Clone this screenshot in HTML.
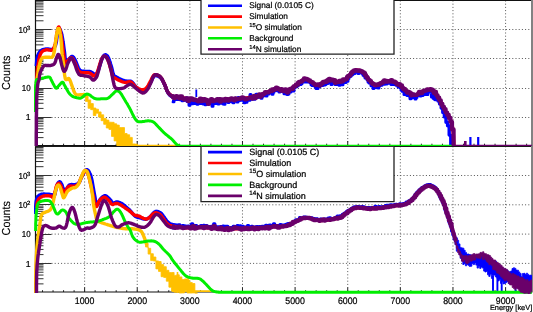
<!DOCTYPE html><html><head><meta charset="utf-8"><style>html,body{margin:0;padding:0;background:#fff;overflow:hidden}svg{display:block}text{will-change:transform;text-rendering:geometricPrecision}</style></head><body>
<svg width="533" height="312" viewBox="0 0 533 312">
<rect width="533" height="312" fill="#fff"/>
<defs><clipPath id="ct"><rect x="34" y="0" width="498" height="146"/></clipPath><clipPath id="cb"><rect x="34" y="146.4" width="498" height="147.6"/></clipPath></defs>
<path d="M84.62 0.5V145.5 M137.24 0.5V145.5 M189.86 0.5V145.5 M242.48 0.5V145.5 M295.10 0.5V145.5 M347.72 0.5V145.5 M400.34 0.5V145.5 M452.96 0.5V145.5 M505.58 0.5V145.5 M35.5 117.50H531.5 M35.5 88.50H531.5 M35.5 58.50H531.5 M35.5 29.50H531.5" stroke="#555" stroke-width="1" stroke-dasharray="1 2.2" fill="none"/>
<path d="M35.5 137.61h8 M35.5 132.47h8 M35.5 128.82h8 M35.5 125.99h8 M35.5 123.68h8 M35.5 121.72h8 M35.5 120.03h8 M35.5 118.54h8 M35.5 117.50h16 M35.5 108.41h8 M35.5 103.27h8 M35.5 99.62h8 M35.5 96.79h8 M35.5 94.48h8 M35.5 92.52h8 M35.5 90.83h8 M35.5 89.34h8 M35.5 88.50h16 M35.5 79.21h8 M35.5 74.07h8 M35.5 70.42h8 M35.5 67.59h8 M35.5 65.28h8 M35.5 63.32h8 M35.5 61.63h8 M35.5 60.14h8 M35.5 58.50h16 M35.5 50.01h8 M35.5 44.87h8 M35.5 41.22h8 M35.5 38.39h8 M35.5 36.08h8 M35.5 34.12h8 M35.5 32.43h8 M35.5 30.94h8 M35.5 29.50h16 M35.5 20.81h8 M35.5 15.67h8 M35.5 12.02h8 M35.5 9.19h8 M35.5 6.88h8 M35.5 4.92h8 M35.5 3.23h8 M35.5 1.74h8 M35.5 0.50h16" stroke="#333" stroke-width="1" fill="none"/>
<path d="M42.52 145.5v-1.8 M53.05 145.5v-1.8 M63.57 145.5v-1.8 M74.10 145.5v-1.8 M84.62 145.5v-4.5 M95.14 145.5v-1.8 M105.67 145.5v-1.8 M116.19 145.5v-1.8 M126.72 145.5v-1.8 M137.24 145.5v-4.5 M147.76 145.5v-1.8 M158.29 145.5v-1.8 M168.81 145.5v-1.8 M179.34 145.5v-1.8 M189.86 145.5v-4.5 M200.38 145.5v-1.8 M210.91 145.5v-1.8 M221.43 145.5v-1.8 M231.96 145.5v-1.8 M242.48 145.5v-4.5 M253.00 145.5v-1.8 M263.53 145.5v-1.8 M274.05 145.5v-1.8 M284.58 145.5v-1.8 M295.10 145.5v-4.5 M305.62 145.5v-1.8 M316.15 145.5v-1.8 M326.67 145.5v-1.8 M337.20 145.5v-1.8 M347.72 145.5v-4.5 M358.24 145.5v-1.8 M368.77 145.5v-1.8 M379.29 145.5v-1.8 M389.82 145.5v-1.8 M400.34 145.5v-4.5 M410.86 145.5v-1.8 M421.39 145.5v-1.8 M431.91 145.5v-1.8 M442.44 145.5v-1.8 M452.96 145.5v-4.5 M463.48 145.5v-1.8 M474.01 145.5v-1.8 M484.53 145.5v-1.8 M495.06 145.5v-1.8 M505.58 145.5v-4.5 M516.10 145.5v-1.8 M526.63 145.5v-1.8" stroke="#222" stroke-width="1" fill="none"/>
<path d="M531.5 0.5H35.5V145.5H531.5" fill="none" stroke="#111" stroke-width="1.2"/>
<path d="M532 0.0V146.0" stroke="#7c7c7c" stroke-width="1.9"/>
<g clip-path="url(#ct)"><polyline points="36.3,66.0 36.3,65.3 36.4,64.4 36.5,63.3 36.6,62.1 36.7,61.0 36.8,60.0 37.0,59.1 37.1,58.2 37.3,57.3 37.5,56.5 37.7,55.7 38.0,55.0 38.3,54.3 38.6,53.7 38.9,53.1 39.2,52.5 39.6,52.0 40.0,51.5 40.4,51.1 40.9,50.7 41.4,50.4 41.8,50.1 42.3,49.9 42.8,49.7 43.3,49.5 43.8,49.4 44.3,49.3 44.8,49.2 45.2,49.2 45.5,49.1 45.0,49.5 45.4,49.4 45.8,49.3 46.1,49.2 46.5,49.1 46.9,49.0 47.3,48.9 47.9,48.9 48.6,49.0 49.5,49.1 50.5,49.3 51.4,49.5 52.3,49.4 53.1,49.1 53.7,48.5 54.3,47.8 54.8,46.8 55.3,45.7 55.7,44.6 56.0,43.3 56.4,41.8 56.6,40.0 56.9,37.8 57.1,35.9 57.3,34.3 57.5,32.9 57.7,31.8 57.9,30.7 58.1,29.7 58.4,28.9 58.6,28.3 58.9,28.0 59.2,28.0 59.5,28.3 59.8,28.8 60.1,29.5 60.4,30.3 60.7,31.0 61.0,31.8 61.3,32.6 61.6,33.6 61.8,34.7 62.1,36.0 62.4,37.5 62.7,39.3 63.0,41.4 63.4,43.8 63.7,46.2 64.0,48.5 64.3,50.6 64.6,52.7 64.8,54.8 65.0,56.8 65.2,58.6 65.5,60.1 65.8,61.1 66.2,61.6 66.5,61.6 66.9,61.2 67.4,60.7 67.9,60.1 68.4,59.6 69.0,59.1 69.6,58.4 70.3,57.6 71.0,57.0 71.7,56.5 72.3,56.4 72.9,56.6 73.4,57.1 73.9,57.8 74.4,58.6 74.9,59.6 75.4,60.6 76.0,61.8 76.6,63.3 77.2,64.8 77.8,66.4 78.3,67.7 78.9,68.8 79.4,69.5 79.9,70.0 80.4,70.4 80.8,70.6 81.3,70.8 81.9,71.0 82.5,71.2 83.1,71.3 83.8,71.3 84.5,71.3 85.2,71.4 85.9,71.4 86.6,71.4 87.4,71.4 88.2,71.4 89.0,71.4 89.7,71.5 90.3,71.6 90.8,71.8 91.3,72.0 91.7,72.3 92.1,72.6 92.5,72.8 92.9,73.1 93.3,73.4 93.7,73.8 94.1,74.2 94.6,74.5 95.0,74.6 95.4,74.6 95.8,74.4 96.3,74.0 96.7,73.5 97.1,72.9 97.6,72.1 98.1,71.0 98.6,69.6 99.2,67.8 99.8,65.9 100.4,63.9 100.9,62.1 101.4,60.6 101.8,59.5 102.2,58.5 102.5,57.8 102.8,57.1 103.1,56.6 103.4,56.1 103.7,55.7 104.1,55.3 104.5,55.1 104.8,54.9 105.2,54.8 105.5,54.8 105.8,54.8 106.2,55.0 106.5,55.2 106.9,55.4 107.2,55.7 107.5,56.1 107.8,56.5 108.1,57.0 108.3,57.5 108.6,58.1 108.9,58.8 109.2,59.6 109.5,60.5 109.9,61.6 110.3,62.8 110.6,64.0 111.0,65.3 111.4,66.6 111.8,68.0 112.2,69.6 112.5,71.2 112.9,72.7 113.3,74.1 113.7,75.1 114.1,75.8 114.4,76.2 114.8,76.4 115.2,76.5 115.6,76.6 116.1,76.8 116.6,77.1 117.1,77.4 117.7,77.8 118.3,78.1 118.9,78.5 119.7,78.8 120.6,79.2 121.5,79.6 122.5,80.0 123.6,80.5 124.7,80.8 125.7,81.0 126.7,81.2 127.7,81.2 128.7,81.1 129.6,81.1 130.6,81.2 131.5,81.5 132.3,82.2 133.0,83.1 133.8,84.1 134.5,85.2 135.3,86.2 136.1,87.1 137.0,87.9 138.0,88.7 139.0,89.5 140.0,90.2 141.0,90.6 141.9,90.8 142.8,90.8 143.6,90.7 144.5,90.5 145.2,90.1 146.0,89.6 146.7,89.0 147.4,88.2 148.0,87.3 148.6,86.3 149.1,85.2 149.7,84.1 150.3,83.0 150.9,81.9 151.5,80.7 152.1,79.4 152.7,78.3 153.3,77.3 153.9,76.5 154.4,76.0 154.9,75.7 155.4,75.6 155.8,75.6 156.3,75.7 156.9,75.8 157.5,76.0 158.2,76.3 159.0,76.6 159.7,77.1 160.4,77.7 161.1,78.4 161.7,79.2 162.3,80.2 162.9,81.3 163.5,82.5 164.1,83.7 164.7,85.0 165.3,86.3 165.9,87.8 166.4,89.4 167.0,90.9 167.6,92.2 168.3,93.4 169.0,94.3 169.7,95.1 170.5,95.8 171.3,96.3 172.1,96.8 173.1,97.2 174.2,97.5 175.6,97.8 177.0,97.9 178.3,98.0 179.5,98.1 180.3,98.2" fill="none" stroke="#0000ff" stroke-width="3.4" stroke-linejoin="round" stroke-linecap="butt"/><polyline points="172.0,101.5 173.0,101.5 173.0,101.7 174.0,101.7 174.0,99.4 175.0,99.4 175.0,98.0 176.0,98.0 176.0,97.5 177.0,97.5 177.0,99.4 178.0,99.4 178.0,97.6 179.0,97.6 179.0,96.9 180.0,96.9 180.0,99.7 181.0,99.7 181.0,99.8 182.0,99.8 182.0,100.7 183.0,100.7 183.0,98.4 184.0,98.4 184.0,100.1 185.0,100.1 185.0,100.2 186.0,100.2 186.0,97.8 187.0,97.8 187.0,101.6 188.0,101.6 188.0,101.4 189.0,101.4 189.0,105.3 190.0,105.3 190.0,101.5 191.0,101.5 191.0,101.1 192.0,101.1 192.0,103.8 193.0,103.8 193.0,102.1 194.0,102.1 194.0,103.5 195.0,103.5 195.0,101.3 196.0,101.3 196.0,102.5 197.0,102.5 197.0,104.2 198.0,104.2 198.0,103.6 199.0,103.6 199.0,102.7 200.0,102.7 200.0,100.4 201.0,100.4 201.0,103.4 202.0,103.4 202.0,102.7 203.0,102.7 203.0,104.0 204.0,104.0 204.0,103.0 205.0,103.0 205.0,104.7 206.0,104.7 206.0,102.5 207.0,102.5 207.0,103.0 208.0,103.0 208.0,103.9 209.0,103.9 209.0,100.5 210.0,100.5 210.0,101.8 211.0,101.8 211.0,101.6 212.0,101.6 212.0,106.3 213.0,106.3 213.0,102.3 214.0,102.3 214.0,103.6 215.0,103.6 215.0,103.5 216.0,103.5 216.0,101.7 217.0,101.7 217.0,99.3 218.0,99.3 218.0,103.9 219.0,103.9 219.0,101.3 220.0,101.3 220.0,103.3 221.0,103.3 221.0,99.4 222.0,99.4 222.0,101.0 223.0,101.0 223.0,104.0 224.0,104.0 224.0,104.3 225.0,104.3 225.0,99.1 226.0,99.1 226.0,99.0 227.0,99.0 227.0,101.3 228.0,101.3 228.0,102.6 229.0,102.6 229.0,101.5 230.0,101.5 230.0,101.6 231.0,101.6 231.0,99.2 232.0,99.2 232.0,102.0 233.0,102.0 233.0,102.8 234.0,102.8 234.0,100.0 235.0,100.0 235.0,98.2 236.0,98.2 236.0,99.3 237.0,99.3 237.0,102.0 238.0,102.0 238.0,97.5 239.0,97.5 239.0,100.4 240.0,100.4 240.0,98.7 241.0,98.7 241.0,100.2 242.0,100.2 242.0,99.9 243.0,99.9 243.0,100.3 244.0,100.3 244.0,102.8 245.0,102.8 245.0,100.8 246.0,100.8 246.0,102.3 247.0,102.3 247.0,99.6 248.0,99.6 248.0,98.9 249.0,98.9 249.0,100.2 250.0,100.2 250.0,94.6 251.0,94.6 251.0,99.1 252.0,99.1 252.0,99.3 253.0,99.3 253.0,96.8 254.0,96.8 254.0,99.3 255.0,99.3 255.0,97.4 256.0,97.4 256.0,94.2 257.0,94.2 257.0,97.5 258.0,97.5 258.0,96.0 259.0,96.0 259.0,96.4 260.0,96.4 260.0,96.6 261.0,96.6 261.0,98.3 262.0,98.3 262.0,96.2 263.0,96.2 263.0,95.6 264.0,95.6 264.0,95.8 265.0,95.8 265.0,92.3 266.0,92.3 266.0,96.1 267.0,96.1 267.0,92.5 268.0,92.5 268.0,94.1 269.0,94.1 269.0,91.6 270.0,91.6 270.0,91.5 271.0,91.5 271.0,91.8 272.0,91.8 272.0,94.3 273.0,94.3 273.0,92.3 274.0,92.3 274.0,90.4 275.0,90.4 275.0,90.5 276.0,90.5 276.0,89.4 277.0,89.4 277.0,90.7 278.0,90.7 278.0,90.2 279.0,90.2 279.0,92.1 280.0,92.1 280.0,89.8 281.0,89.8 281.0,91.5 282.0,91.5 282.0,91.2 283.0,91.2 283.0,91.7 284.0,91.7 284.0,93.8 285.0,93.8 285.0,93.2 286.0,93.2 286.0,93.9 287.0,93.9 287.0,94.5 288.0,94.5 288.0,94.0 289.0,94.0 289.0,90.3 290.0,90.3 290.0,91.9 291.0,91.9 291.0,88.3 292.0,88.3 292.0,89.5 293.0,89.5 293.0,90.9 294.0,90.9 294.0,87.8 295.0,87.8 295.0,86.9 296.0,86.9 296.0,86.7 297.0,86.7 297.0,85.8 298.0,85.8 298.0,85.0 299.0,85.0 299.0,83.5 300.0,83.5 300.0,84.5 301.0,84.5 301.0,83.7 302.0,83.7 302.0,82.1 303.0,82.1 303.0,82.0 304.0,82.0 304.0,81.9 305.0,81.9 305.0,82.0 306.0,82.0 306.0,81.5 307.0,81.5 307.0,82.1 308.0,82.1 308.0,81.8 309.0,81.8 309.0,81.8 310.0,81.8 310.0,82.8 311.0,82.8 311.0,84.8 312.0,84.8 312.0,85.5 313.0,85.5 313.0,85.4 314.0,85.4 314.0,85.4 315.0,85.4 315.0,86.8 316.0,86.8 316.0,88.6 317.0,88.6 317.0,88.4 318.0,88.4 318.0,86.3 319.0,86.3 319.0,86.7 320.0,86.7 320.0,84.9 321.0,84.9 321.0,84.7 322.0,84.7 322.0,85.4 323.0,85.4 323.0,84.7 324.0,84.7 324.0,84.9 325.0,84.9 325.0,84.6 326.0,84.6 326.0,83.6 327.0,83.6 327.0,83.5 328.0,83.5 328.0,81.6 329.0,81.6 329.0,80.9 330.0,80.9 330.0,82.3 331.0,82.3 331.0,84.4 332.0,84.4 332.0,82.6 333.0,82.6 333.0,81.5 334.0,81.5 334.0,83.1 335.0,83.1 335.0,84.5 336.0,84.5 336.0,82.6 337.0,82.6 337.0,84.6 338.0,84.6 338.0,83.5 339.0,83.5 339.0,85.2 340.0,85.2 340.0,84.5 341.0,84.5 341.0,83.7 342.0,83.7 342.0,84.8 343.0,84.8 343.0,82.1 344.0,82.1 344.0,81.2 345.0,81.2 345.0,82.6 346.0,82.6 346.0,79.6 347.0,79.6 347.0,81.2 348.0,81.2 348.0,78.5 349.0,78.5 349.0,76.7 350.0,76.7 350.0,76.3 351.0,76.3 351.0,75.3 352.0,75.3 352.0,74.4 353.0,74.4 353.0,73.3 354.0,73.3 354.0,73.5 355.0,73.5 355.0,71.1 356.0,71.1 356.0,71.9 357.0,71.9 357.0,72.0 358.0,72.0 358.0,73.4 359.0,73.4 359.0,71.4 360.0,71.4 360.0,72.7 361.0,72.7 361.0,72.7 362.0,72.7 362.0,73.6 363.0,73.6 363.0,75.2 364.0,75.2 364.0,76.0 365.0,76.0 365.0,77.9 366.0,77.9 366.0,77.8 367.0,77.8 367.0,79.8 368.0,79.8 368.0,82.0 369.0,82.0 369.0,83.1 370.0,83.1 370.0,83.1 371.0,83.1 371.0,85.7 372.0,85.7 372.0,84.8 373.0,84.8 373.0,88.4 374.0,88.4 374.0,87.4 375.0,87.4 375.0,87.4 376.0,87.4 376.0,87.5 377.0,87.5 377.0,87.7 378.0,87.7 378.0,88.1 379.0,88.1 379.0,85.7 380.0,85.7 380.0,84.9 381.0,84.9 381.0,85.3 382.0,85.3 382.0,83.4 383.0,83.4 383.0,82.2 384.0,82.2 384.0,84.2 385.0,84.2 385.0,82.9 386.0,82.9 386.0,84.1 387.0,84.1 387.0,82.1 388.0,82.1 388.0,80.4 389.0,80.4 389.0,83.2 390.0,83.2 390.0,83.2 391.0,83.2 391.0,84.6 392.0,84.6 392.0,83.9 393.0,83.9 393.0,84.0 394.0,84.0 394.0,84.6 395.0,84.6 395.0,84.2 396.0,84.2 396.0,85.2 397.0,85.2 397.0,84.4 398.0,84.4 398.0,87.0 399.0,87.0 399.0,86.4 400.0,86.4 400.0,87.7 401.0,87.7 401.0,89.9 402.0,89.9 402.0,91.2 403.0,91.2 403.0,89.9 404.0,89.9 404.0,94.5 405.0,94.5 405.0,92.0 406.0,92.0 406.0,94.7 407.0,94.7 407.0,95.6 408.0,95.6 408.0,95.3 409.0,95.3 409.0,95.9 410.0,95.9 410.0,98.8 411.0,98.8 411.0,97.9 412.0,97.9 412.0,97.5 413.0,97.5 413.0,94.3 414.0,94.3 414.0,96.1 415.0,96.1 415.0,99.1 416.0,99.1 416.0,97.6 417.0,97.6 417.0,95.5 418.0,95.5 418.0,95.3 419.0,95.3 419.0,95.0 420.0,95.0 420.0,95.9 421.0,95.9 421.0,95.0 422.0,95.0 422.0,95.4 423.0,95.4 423.0,92.6 424.0,92.6 424.0,94.6 425.0,94.6 425.0,92.3 426.0,92.3 426.0,92.3 427.0,92.3 427.0,94.6 428.0,94.6 428.0,92.2 429.0,92.2 429.0,91.8 430.0,91.8 430.0,91.8 431.0,91.8 431.0,92.0 432.0,92.0 432.0,95.2 433.0,95.2 433.0,95.9 434.0,95.9 434.0,96.0 435.0,96.0 435.0,96.4 436.0,96.4 436.0,99.1 437.0,99.1" fill="none" stroke="#0000ff" stroke-width="3.0" stroke-linejoin="round" stroke-linecap="butt"/><polyline points="196.3,97.0 196.3,89.5" fill="none" stroke="#0000ff" stroke-width="1.8" stroke-linejoin="round" stroke-linecap="butt"/><polyline points="430.0,95.5 431.6,95.5 431.6,96.9 433.2,96.9 433.2,98.2 434.8,98.2 434.8,99.6 436.4,99.6 436.4,98.8 438.0,98.8 438.0,101.0 439.6,101.0 439.6,103.9 441.2,103.9 441.2,108.1 442.8,108.1 442.8,112.6 444.4,112.6 444.4,116.9 446.0,116.9 446.0,122.2 447.6,122.2 447.6,125.7 449.2,125.7 449.2,135.1 450.8,135.1 450.8,145.5 452.4,145.5" fill="none" stroke="#0000ff" stroke-width="3.4" stroke-linejoin="round" stroke-linecap="butt"/><polyline points="470.4,146.0 470.4,137.0" fill="none" stroke="#0000ff" stroke-width="2.2" stroke-linejoin="round" stroke-linecap="butt"/><polyline points="478.2,146.0 478.2,137.0" fill="none" stroke="#0000ff" stroke-width="2.2" stroke-linejoin="round" stroke-linecap="butt"/><polyline points="36.6,88.0 36.6,86.9 36.6,85.4 36.6,83.6 36.7,81.7 36.7,79.8 36.8,78.0 36.9,76.3 37.0,74.6 37.1,72.9 37.3,71.2 37.4,69.6 37.6,68.0 37.8,66.5 38.0,65.1 38.2,63.7 38.4,62.4 38.6,61.2 38.8,60.0 39.0,58.9 39.3,57.9 39.5,56.9 39.8,56.1 40.0,55.2 40.3,54.5 40.6,53.8 40.9,53.2 41.2,52.7 41.5,52.3 41.9,51.9 42.2,51.5 42.6,51.2 42.9,50.9 43.3,50.7 43.7,50.6 44.1,50.4 44.5,50.3 44.9,50.2 45.2,50.1 45.6,50.0 46.0,49.9 46.4,49.8 47.0,49.8 47.7,49.9 48.6,50.0 49.6,50.2 50.5,50.4 51.4,50.3 52.2,50.0 52.8,49.4 53.4,48.6 53.9,47.7 54.4,46.6 54.8,45.4 55.2,44.0 55.6,42.4 55.9,40.5 56.1,38.5 56.4,36.5 56.6,34.6 56.9,33.0 57.2,31.6 57.5,30.3 57.8,29.1 58.0,28.1 58.3,27.4 58.6,27.0 58.9,27.0 59.1,27.5 59.4,28.2 59.7,29.0 59.9,30.0 60.2,31.0 60.4,32.0 60.7,33.0 60.9,34.2 61.1,35.4 61.3,36.9 61.6,38.5 61.9,40.4 62.2,42.7 62.5,45.1 62.8,47.5 63.1,49.9 63.4,52.0 63.7,54.1 63.9,56.2 64.1,58.2 64.3,60.0 64.6,61.5 64.9,62.5 65.3,63.0 65.6,63.0 66.1,62.6 66.5,62.1 67.0,61.5 67.5,61.0 68.1,60.5 68.7,59.8 69.4,59.0 70.1,58.4 70.8,57.9 71.4,57.8 72.0,58.0 72.5,58.5 73.0,59.2 73.5,60.0 74.0,61.0 74.5,62.0 75.1,63.2 75.7,64.7 76.3,66.2 76.9,67.8 77.4,69.1 78.0,70.2 78.5,70.9 79.0,71.4 79.5,71.8 79.9,72.0 80.4,72.2 81.0,72.4 81.6,72.6 82.2,72.7 82.9,72.7 83.6,72.7 84.3,72.8 85.0,72.8 85.7,72.8 86.5,72.8 87.3,72.8 88.1,72.8 88.8,72.9 89.4,73.0 89.9,73.2 90.4,73.4 90.8,73.7 91.2,74.0 91.6,74.2 92.0,74.5 92.4,74.8 92.8,75.2 93.2,75.6 93.7,75.9 94.1,76.0 94.5,76.0 94.9,75.8 95.4,75.4 95.8,74.9 96.2,74.3 96.7,73.5 97.2,72.4 97.7,71.0 98.3,69.2 98.9,67.3 99.5,65.3 100.0,63.5 100.5,62.0 100.9,60.9 101.3,59.9 101.6,59.2 101.9,58.5 102.2,58.0 102.5,57.5 102.8,57.1 103.2,56.7 103.5,56.5 103.9,56.3 104.3,56.2 104.6,56.2 104.9,56.2 105.3,56.4 105.6,56.6 106.0,56.8 106.3,57.1 106.6,57.5 106.9,57.9 107.2,58.4 107.4,58.9 107.7,59.5 108.0,60.2 108.3,61.0 108.6,61.9 109.0,63.0 109.4,64.2 109.7,65.4 110.1,66.7 110.5,68.0 110.9,69.4 111.3,71.0 111.6,72.6 112.0,74.1 112.4,75.5 112.8,76.5 113.2,77.2 113.5,77.6 113.9,77.8 114.3,77.9 114.7,78.0 115.2,78.2 115.7,78.5 116.2,78.8 116.8,79.2 117.4,79.5 118.0,79.9 118.8,80.2 119.7,80.6 120.6,81.0 121.6,81.5 122.7,81.9 123.8,82.2 124.8,82.4 125.8,82.4 126.8,82.3 127.9,82.0 128.9,81.8 129.9,81.8 130.8,82.0 131.7,82.5 132.4,83.3 133.2,84.2 134.0,85.1 134.7,86.0 135.6,86.8 136.5,87.5 137.6,88.1 138.6,88.7 139.6,89.2 140.7,89.6 141.6,89.8 142.5,89.8 143.3,89.7 144.2,89.5 144.9,89.1 145.7,88.6 146.4,88.0 147.1,87.2 147.7,86.3 148.3,85.3 148.8,84.2 149.4,83.1 150.0,82.0 150.6,80.9 151.2,79.7 151.8,78.4 152.4,77.3 153.0,76.3 153.6,75.5 154.1,75.0 154.6,74.7 155.1,74.6 155.5,74.6 156.0,74.7 156.6,74.8 157.2,75.0 157.9,75.3 158.7,75.6 159.4,76.1 160.1,76.7 160.8,77.4 161.4,78.2 162.0,79.2 162.6,80.3 163.2,81.5 163.8,82.7 164.4,84.0 165.0,85.3 165.6,86.8 166.1,88.4 166.7,89.9 167.3,91.2 168.0,92.4 168.7,93.3 169.4,94.1 170.2,94.8 171.0,95.3 171.8,95.8 172.8,96.2 173.9,96.5 175.3,96.8 176.7,96.9 178.0,97.0 179.2,97.1 180.0,97.2 180.6,97.4 181.4,97.6 182.3,97.7 183.4,97.9 184.7,98.2 186.1,98.4 187.8,98.7 189.7,99.0 191.7,99.4 193.9,99.8 196.0,100.1 198.1,100.3 200.1,100.5 202.1,100.6 204.2,100.6 206.2,100.6 208.2,100.6 210.2,100.6 212.2,100.5 214.2,100.4 216.2,100.3 218.2,100.1 220.2,100.0 222.2,99.8 224.2,99.6 226.2,99.5 228.2,99.3 230.2,99.1 232.2,99.0 234.2,98.8 236.2,98.7 238.2,98.6 240.2,98.5 242.2,98.4 244.2,98.2 246.2,98.0 248.2,97.7 250.2,97.4 252.2,97.1 254.3,96.6 256.3,96.2 258.3,95.6 260.4,94.9 262.5,94.1 264.6,93.2 266.7,92.3 268.6,91.5 270.3,90.8 271.7,90.2 272.9,89.7 273.9,89.3 274.9,89.0 276.0,88.8 277.2,88.7 278.7,88.9 280.3,89.4 282.0,90.1 283.7,90.7 285.3,91.1 286.8,91.1 288.2,90.7 289.4,90.1 290.6,89.2 291.8,88.2 292.9,87.2 294.1,86.3 295.3,85.4 296.6,84.4 297.9,83.5 299.1,82.5 300.2,81.7 301.3,81.0 302.2,80.4 303.1,80.0 303.9,79.6 304.6,79.3 305.3,79.1 306.1,79.1 306.9,79.2 307.6,79.5 308.4,80.0 309.1,80.5 310.0,81.0 310.9,81.5 311.9,82.1 313.0,82.9 314.2,83.8 315.4,84.5 316.7,85.0 318.1,85.1 319.6,84.7 321.3,83.9 323.0,82.9 324.8,81.9 326.3,80.9 327.7,80.3 328.8,80.0 329.6,79.9 330.3,79.9 331.0,80.0 331.7,80.1 332.6,80.3 333.7,80.6 334.8,81.0 336.1,81.4 337.3,81.8 338.6,82.0 339.8,82.0 341.0,81.7 342.2,81.1 343.5,80.4 344.7,79.6 345.9,78.8 347.0,77.9 348.1,76.9 349.1,75.8 350.1,74.7 351.1,73.6 352.1,72.6 353.0,71.8 353.9,71.2 354.6,70.8 355.4,70.4 356.2,70.2 356.9,70.2 357.8,70.2 358.7,70.4 359.7,70.6 360.7,71.0 361.8,71.6 362.8,72.2 363.8,73.0 364.8,74.0 365.8,75.2 366.8,76.6 367.7,78.0 368.7,79.3 369.6,80.4 370.5,81.4 371.3,82.4 372.1,83.3 372.9,84.1 373.7,84.7 374.4,85.2 375.0,85.4 375.6,85.5 376.1,85.4 376.7,85.2 377.3,84.9 378.0,84.6 378.9,84.2 379.8,83.7 380.9,83.1 381.9,82.5 383.0,82.0 384.0,81.6 385.0,81.3 386.0,81.2 387.1,81.0 388.1,81.0 389.1,81.0 390.0,81.0 390.9,81.1 391.7,81.2 392.5,81.4 393.2,81.6 394.0,81.9 394.8,82.2 395.6,82.6 396.4,83.0 397.2,83.5 398.0,84.0 398.8,84.6 399.6,85.2 400.4,85.8 401.2,86.5 401.9,87.2 402.7,88.0 403.5,88.7 404.4,89.4 405.3,90.1 406.3,90.9 407.3,91.7 408.4,92.4 409.4,93.1 410.4,93.6 411.4,94.0 412.5,94.3 413.5,94.6 414.6,94.8 415.5,94.8 416.4,94.8 417.1,94.6 417.7,94.3 418.2,93.9 418.8,93.5 419.4,93.0 420.1,92.6 421.0,92.2 422.0,91.8 423.0,91.4 424.1,91.0 425.2,90.6 426.1,90.3 426.9,90.0 427.7,89.8 428.5,89.6 429.2,89.4 430.0,89.4 430.7,89.6 431.5,89.9 432.2,90.4 432.9,91.0 433.7,91.7 434.4,92.5 435.2,93.3 436.0,94.2 436.7,95.2 437.5,96.3 438.3,97.5 439.0,98.7 439.8,100.0 440.6,101.4 441.3,102.9 442.1,104.5 442.9,106.1 443.6,107.6 444.3,109.0 445.0,110.2 445.6,111.2 446.2,112.1 446.8,113.0 447.4,113.9 448.0,115.0 448.6,116.2 449.3,117.4 449.9,118.6 450.5,119.9 451.0,121.2 451.5,122.6 451.9,124.0 452.2,125.5 452.5,127.0 452.7,128.6 452.9,130.1 453.1,131.6 453.3,133.1 453.4,134.6 453.5,136.0 453.6,137.4 453.6,138.8 453.7,140.0 453.8,141.1 453.8,142.3 453.8,143.3 453.9,144.2 453.9,144.9 453.9,145.5" fill="none" stroke="#ff0000" stroke-width="3.4" stroke-linejoin="round" stroke-linecap="butt"/><polyline points="36.4,92.0 36.4,91.1 36.4,89.9 36.4,88.5 36.5,87.0 36.5,85.4 36.6,84.0 36.7,82.7 36.9,81.3 37.0,80.0 37.2,78.7 37.4,77.3 37.6,76.0 37.8,74.6 38.0,73.3 38.2,71.9 38.4,70.5 38.6,69.2 38.8,68.0 39.0,66.9 39.2,65.8 39.5,64.7 39.7,63.8 39.9,62.8 40.2,62.0 40.5,61.2 40.7,60.5 41.0,59.8 41.3,59.2 41.7,58.6 42.0,58.2 42.4,57.9 42.7,57.7 43.1,57.5 43.6,57.4 44.0,57.4 44.5,57.3 45.0,57.2 45.6,57.2 46.1,57.2 46.7,57.2 47.4,57.2 48.0,57.2 48.7,57.2 49.4,57.3 50.2,57.4 50.9,57.4 51.6,57.3 52.2,57.0 52.7,56.5 53.0,55.9 53.4,55.2 53.6,54.4 53.9,53.3 54.2,52.0 54.5,50.4 54.8,48.4 55.0,46.2 55.3,44.0 55.5,41.9 55.8,40.0 56.1,38.3 56.3,36.5 56.6,34.9 56.8,33.4 57.1,32.1 57.3,31.0 57.5,30.1 57.7,29.5 57.9,29.0 58.1,28.6 58.3,28.5 58.5,28.4 58.7,28.5 58.9,28.6 59.1,29.0 59.3,29.5 59.5,30.1 59.7,31.0 59.9,32.1 60.1,33.3 60.4,34.7 60.6,36.3 60.8,38.1 61.0,40.0 61.2,42.2 61.4,44.7 61.6,47.4 61.8,50.1 62.0,52.7 62.2,55.0 62.5,57.1 62.7,59.1 63.0,60.9 63.3,62.7 63.6,64.4 63.8,66.0 64.0,67.5 64.1,69.0 64.2,70.4 64.3,71.7 64.4,72.9 64.5,74.0 64.6,75.1 64.8,76.1 65.0,77.0 65.1,77.8 65.3,78.5 65.5,79.0 65.7,79.4 66.0,79.6 66.2,79.6 66.5,79.6 66.7,79.6 67.0,79.5 67.3,79.4 67.5,79.1 67.8,78.8 68.1,78.6 68.4,78.5 68.7,78.5 69.0,78.7 69.3,79.1 69.6,79.6 69.9,80.1 70.2,80.8 70.5,81.5 70.8,82.3 71.1,83.2 71.4,84.2 71.7,85.2 72.1,86.2 72.5,87.3 72.9,88.5 73.4,89.8 73.8,91.1 74.4,92.3 74.9,93.4 75.6,94.2 76.4,94.7 77.3,94.9 78.3,94.9 79.2,94.9 80.2,94.8 81.0,94.8 81.7,94.8 82.4,94.7 83.0,94.6 83.6,94.5 84.1,94.5 84.6,94.6 85.0,94.8 85.4,95.1 85.8,95.5 86.1,95.9 86.3,96.3 86.5,96.5" fill="none" stroke="#ffc000" stroke-width="3.4" stroke-linejoin="round" stroke-linecap="butt"/><polygon points="85.5,96.1 88.1,96.1 88.1,99.9 90.7,99.9 90.7,103.6 93.3,103.6 93.3,108.0 95.9,108.0 95.9,109.2 98.5,109.2 98.5,111.9 101.1,111.9 101.1,114.8 103.7,114.8 103.7,118.5 106.3,118.5 106.3,120.1 108.9,120.1 108.9,122.2 111.5,122.2 111.5,122.3 114.1,122.3 114.1,123.8 116.7,123.8 116.7,125.1 119.3,125.1 119.3,127.6 121.9,127.6 121.9,127.6 124.5,127.6 124.5,133.5 127.1,133.5 127.1,134.8 129.7,134.8 129.7,137.4 132.3,137.4 132.3,143.9 134.9,143.9 134.9,145.7 137.5,145.7 137.5,144.1 134.9,144.1 134.9,146.0 132.3,146.0 132.3,146.0 129.7,146.0 129.7,146.0 127.1,146.0 127.1,145.1 124.5,145.1 124.5,145.7 121.9,145.7 121.9,145.6 119.3,145.6 119.3,145.5 116.7,145.5 116.7,140.9 114.1,140.9 114.1,136.4 111.5,136.4 111.5,129.4 108.9,129.4 108.9,128.0 106.3,128.0 106.3,124.3 103.7,124.3 103.7,120.7 101.1,120.7 101.1,117.1 98.5,117.1 98.5,113.2 95.9,113.2 95.9,115.5 93.3,115.5 93.3,109.7 90.7,109.7 90.7,108.3 88.1,108.3 88.1,101.4 85.5,101.4" fill="#ffc000" stroke="#ffc000" stroke-width="0.8" stroke-linejoin="round"/><polyline points="117.0,146.2 180.0,146.2" fill="none" stroke="#ffc000" stroke-width="3.0" stroke-linejoin="round" stroke-linecap="butt"/><polyline points="35.2,112.0 35.2,109.5 35.2,105.8 35.2,101.6 35.3,97.2 35.3,93.2 35.4,90.0 35.5,87.6 35.6,85.6 35.8,83.9 35.9,82.6 36.1,81.4 36.3,80.5 36.5,79.8 36.7,79.5 37.0,79.5 37.3,79.5 37.6,79.6 38.0,79.5 38.4,79.3 38.9,79.2 39.5,79.0 40.0,78.9 40.7,78.7 41.4,78.5 42.2,78.3 43.2,78.0 44.2,77.8 45.3,77.5 46.2,77.3 47.0,77.2 47.6,77.1 48.2,77.0 48.6,77.0 49.0,77.0 49.4,77.2 49.8,77.4 50.2,77.8 50.5,78.2 50.7,78.8 51.0,79.4 51.4,80.2 51.8,81.0 52.4,82.1 53.0,83.4 53.8,84.8 54.5,86.2 55.2,87.3 55.8,88.0 56.3,88.2 56.8,88.1 57.2,87.7 57.6,87.1 58.0,86.5 58.5,86.0 59.1,85.4 59.8,84.6 60.5,83.8 61.2,83.0 61.8,82.5 62.4,82.2 62.8,82.3 63.2,82.5 63.4,83.0 63.7,83.6 64.0,84.4 64.5,85.2 65.1,86.2 65.8,87.5 66.5,88.9 67.3,90.2 68.0,91.5 68.7,92.6 69.4,93.5 70.0,94.2 70.6,94.8 71.3,95.4 71.9,95.9 72.5,96.3 73.1,96.7 73.6,96.9 74.2,97.1 74.7,97.2 75.3,97.4 76.0,97.5 76.7,97.7 77.6,97.9 78.4,98.0 79.3,98.2 80.2,98.2 81.0,98.0 81.8,97.6 82.7,97.0 83.5,96.2 84.3,95.5 85.1,94.8 85.8,94.4 86.4,94.2 87.0,94.1 87.4,94.1 87.9,94.2 88.4,94.4 89.0,94.6 89.6,94.9 90.3,95.4 91.0,96.0 91.7,96.6 92.4,97.1 93.0,97.5 93.5,97.8 94.0,98.1 94.4,98.3 94.8,98.5 95.3,98.7 96.0,98.8 96.8,98.9 97.8,98.9 98.8,98.9 99.9,98.9 101.0,98.8 102.0,98.8 103.0,98.8 104.0,98.8 105.1,98.8 106.1,98.7 107.1,98.5 108.0,98.2 108.9,97.7 109.7,97.0 110.5,96.2 111.3,95.4 112.1,94.7 112.8,94.0 113.5,93.4 114.1,92.7 114.7,92.2 115.2,91.6 115.8,91.2 116.4,91.0 117.0,90.9 117.6,90.9 118.1,91.0 118.7,91.3 119.3,91.8 120.0,92.4 120.7,93.3 121.6,94.5 122.4,95.9 123.2,97.4 124.1,98.8 124.8,100.0 125.5,101.1 126.1,102.2 126.8,103.3 127.4,104.2 127.9,105.2 128.4,106.0 128.8,106.7 129.1,107.2 129.4,107.7 129.7,108.2 130.0,108.8 130.4,109.6 130.9,110.7 131.6,112.0 132.2,113.4 132.9,114.8 133.6,116.1 134.2,117.2 134.7,118.1 135.2,118.9 135.6,119.5 136.1,120.1 136.5,120.6 137.0,121.0 137.5,121.3 137.9,121.5 138.4,121.7 138.9,121.7 139.4,121.8 140.0,121.8 140.6,121.8 141.2,121.8 141.9,121.7 142.6,121.6 143.3,121.5 144.0,121.4 144.7,121.3 145.5,121.1 146.2,121.0 147.0,120.9 147.8,120.8 148.6,120.8 149.4,120.9 150.2,120.9 151.0,121.1 151.8,121.3 152.6,121.6 153.4,122.0 154.2,122.6 154.9,123.2 155.7,124.0 156.4,124.9 157.3,125.8 158.2,126.8 159.3,127.9 160.5,129.1 161.7,130.4 163.0,131.7 164.2,132.9 165.4,134.0 166.5,134.9 167.5,135.7 168.5,136.5 169.4,137.2 170.4,137.9 171.4,138.8 172.4,139.8 173.5,141.0 174.6,142.3 175.7,143.5 176.6,144.5 177.4,145.2 178.1,145.6 178.6,145.8 179.1,145.8 179.5,145.7 177.4,145.2 179.5,146.2 452.6,146.2" fill="none" stroke="#00ee00" stroke-width="3.0" stroke-linejoin="round" stroke-linecap="butt"/><polyline points="36.3,147.0 36.3,143.9 36.3,139.4 36.3,134.2 36.4,128.9 36.4,123.9 36.4,120.0 36.4,117.1 36.5,114.9 36.5,113.1 36.5,111.4 36.6,109.8 36.6,108.0 36.6,106.0 36.6,104.0 36.7,102.0 36.7,100.0 36.7,98.0 36.8,96.0 36.9,93.9 37.1,91.7 37.2,89.5 37.4,87.4 37.6,85.5 37.8,84.0 38.0,82.9 38.2,82.1 38.4,81.6 38.6,81.1 38.8,80.6 39.0,79.8 39.2,78.8 39.3,77.6 39.5,76.3 39.6,75.1 39.9,73.8 40.2,72.6 40.7,71.4 41.2,70.1 41.9,68.9 42.5,67.7 43.2,66.7 43.8,66.0 44.3,65.6 44.9,65.4 45.4,65.3 45.9,65.4 46.4,65.5 47.0,65.5 47.6,65.5 48.3,65.5 49.0,65.5 49.7,65.6 50.4,65.5 51.0,65.4 51.6,65.2 52.3,65.0 52.9,64.8 53.5,64.5 54.0,64.0 54.5,63.5 54.9,62.8 55.3,61.9 55.6,60.9 55.9,59.8 56.2,58.8 56.5,58.0 56.8,57.2 57.1,56.5 57.4,55.8 57.7,55.1 57.9,54.7 58.2,54.5 58.5,54.5 58.7,54.7 59.0,55.1 59.3,55.6 59.5,56.3 59.8,57.0 60.1,57.9 60.3,59.0 60.6,60.2 60.9,61.5 61.2,62.8 61.5,64.0 61.8,65.2 62.2,66.6 62.5,67.9 62.9,69.1 63.3,70.1 63.6,70.8 63.9,71.2 64.2,71.3 64.5,71.3 64.8,71.0 65.2,70.6 65.5,70.0 65.9,69.2 66.3,68.0 66.7,66.8 67.1,65.4 67.5,64.1 68.0,63.0 68.5,62.0 69.1,60.9 69.7,59.8 70.3,59.0 70.8,58.4 71.4,58.2 71.9,58.4 72.4,59.0 72.9,59.9 73.4,61.0 73.9,62.2 74.5,63.5 75.1,65.0 75.8,66.9 76.4,68.9 77.1,70.8 77.9,72.5 78.6,73.8 79.3,74.6 80.1,75.1 80.9,75.3 81.7,75.4 82.5,75.4 83.4,75.6 84.4,75.8 85.4,76.0 86.5,76.1 87.5,76.3 88.5,76.5 89.4,76.8 90.2,77.3 90.8,77.9 91.5,78.5 92.0,79.2 92.5,79.7 93.0,80.0 93.4,80.1 93.8,80.1 94.1,79.9 94.4,79.7 94.7,79.4 95.0,79.0 95.3,78.6 95.7,78.3 96.1,77.8 96.4,77.3 96.8,76.5 97.2,75.5 97.6,74.1 98.1,72.4 98.6,70.5 99.1,68.5 99.5,66.6 100.0,65.0 100.4,63.6 100.8,62.2 101.2,60.9 101.6,59.8 102.0,58.8 102.4,58.0 102.8,57.4 103.1,56.9 103.5,56.6 103.9,56.4 104.2,56.3 104.6,56.3 105.0,56.3 105.3,56.5 105.7,56.7 106.1,57.0 106.4,57.5 106.8,58.0 107.2,58.7 107.6,59.4 108.0,60.3 108.4,61.3 108.8,62.3 109.2,63.5 109.6,64.8 110.0,66.2 110.4,67.7 110.8,69.3 111.2,70.8 111.6,72.4 111.9,74.0 112.2,75.7 112.5,77.4 112.8,79.1 113.1,80.6 113.4,82.0 113.7,83.2 113.9,84.3 114.2,85.3 114.5,86.1 114.8,86.9 115.2,87.5 115.7,88.0 116.2,88.3 116.8,88.4 117.4,88.5 118.1,88.6 118.8,88.6 119.5,88.6 120.4,88.6 121.2,88.5 122.0,88.4 122.9,88.2 123.6,88.0 124.3,87.7 124.9,87.3 125.5,86.8 126.0,86.4 126.6,86.0 127.2,85.6 127.8,85.3 128.4,84.9 128.9,84.6 129.5,84.4 130.1,84.3 130.8,84.4 131.5,84.7 132.2,85.2 133.0,85.8 133.8,86.5 134.6,87.3 135.6,88.0 136.7,88.9 137.9,89.9 139.2,91.0 140.5,91.9 141.7,92.7 142.8,93.0 143.8,92.9 144.6,92.5 145.4,91.9 146.2,91.0 146.9,90.1 147.6,89.2 148.3,88.2 148.9,87.0 149.5,85.7 150.1,84.4 150.7,83.2 151.2,82.0 151.7,80.9 152.1,79.7 152.4,78.6 152.8,77.6 153.2,76.7 153.6,76.0 154.1,75.5 154.5,75.1 155.0,74.9 155.5,74.7 156.0,74.7 156.6,74.8 157.2,75.0 157.9,75.2 158.7,75.6 159.4,76.1 160.1,76.7 160.8,77.4 161.4,78.2 162.0,79.2 162.6,80.3 163.2,81.5 163.8,82.7 164.4,84.0 165.0,85.3 165.6,86.8 166.1,88.4 166.7,89.9 167.3,91.2 168.0,92.4 168.7,93.4 169.4,94.2 170.2,94.9 171.0,95.5 171.8,96.0 172.8,96.5 173.9,96.9 175.3,97.1 176.7,97.3 178.0,97.4 179.2,97.5 180.0,97.6" fill="none" stroke="#6a006a" stroke-width="3.4" stroke-linejoin="round" stroke-linecap="butt"/><polyline points="156.6,74.8 157.1,75.0 157.7,75.3 158.5,75.7 159.3,76.1 160.1,76.7 160.8,77.4 161.4,78.2 162.0,79.2 162.6,80.3 163.2,81.5 163.8,82.7 164.4,84.0 165.0,85.3 165.6,86.8 166.1,88.4 166.7,89.9 167.3,91.2 168.0,92.4 168.7,93.4 169.4,94.2 170.2,94.9 171.0,95.5 171.8,96.0 172.8,96.5 173.9,96.9 175.3,97.1 176.7,97.3 178.0,97.4 179.2,97.5 180.0,97.6" fill="none" stroke="#6a006a" stroke-width="3.4" stroke-linejoin="round" stroke-linecap="butt"/><polyline points="172.0,96.2 173.0,96.2 173.0,97.6 174.0,97.6 174.0,98.2 175.0,98.2 175.0,96.9 176.0,96.9 176.0,96.1 177.0,96.1 177.0,97.2 178.0,97.2 178.0,97.7 179.0,97.7 179.0,98.3 180.0,98.3 180.0,96.3 181.0,96.3 181.0,96.4 182.0,96.4 182.0,98.4 183.0,98.4 183.0,98.4 184.0,98.4 184.0,99.5 185.0,99.5 185.0,99.2 186.0,99.2 186.0,98.4 187.0,98.4 187.0,98.4 188.0,98.4 188.0,101.2 189.0,101.2 189.0,98.7 190.0,98.7 190.0,98.4 191.0,98.4 191.0,98.3 192.0,98.3 192.0,99.6 193.0,99.6 193.0,99.8 194.0,99.8 194.0,99.5 195.0,99.5 195.0,99.9 196.0,99.9 196.0,100.4 197.0,100.4 197.0,100.9 198.0,100.9 198.0,101.4 199.0,101.4 199.0,100.6 200.0,100.6 200.0,98.7 201.0,98.7 201.0,101.2 202.0,101.2 202.0,99.2 203.0,99.2 203.0,100.4 204.0,100.4 204.0,99.2 205.0,99.2 205.0,100.6 206.0,100.6 206.0,99.9 207.0,99.9 207.0,100.8 208.0,100.8 208.0,103.9 209.0,103.9 209.0,100.6 210.0,100.6 210.0,101.4 211.0,101.4 211.0,99.2 212.0,99.2 212.0,100.2 213.0,100.2 213.0,101.1 214.0,101.1 214.0,100.3 215.0,100.3 215.0,100.7 216.0,100.7 216.0,100.4 217.0,100.4 217.0,99.2 218.0,99.2 218.0,100.6 219.0,100.6 219.0,99.2 220.0,99.2 220.0,101.7 221.0,101.7 221.0,99.4 222.0,99.4 222.0,100.4 223.0,100.4 223.0,99.7 224.0,99.7 224.0,100.5 225.0,100.5 225.0,99.0 226.0,99.0 226.0,100.4 227.0,100.4 227.0,99.2 228.0,99.2 228.0,100.5 229.0,100.5 229.0,99.8 230.0,99.8 230.0,99.2 231.0,99.2 231.0,98.3 232.0,98.3 232.0,99.6 233.0,99.6 233.0,99.3 234.0,99.3 234.0,100.3 235.0,100.3 235.0,98.4 236.0,98.4 236.0,99.2 237.0,99.2 237.0,99.1 238.0,99.1 238.0,98.8 239.0,98.8 239.0,98.7 240.0,98.7 240.0,98.6 241.0,98.6 241.0,97.9 242.0,97.9 242.0,97.4 243.0,97.4 243.0,97.9 244.0,97.9 244.0,98.7 245.0,98.7 245.0,99.4 246.0,99.4 246.0,98.8 247.0,98.8 247.0,98.8 248.0,98.8 248.0,98.4 249.0,98.4 249.0,98.1 250.0,98.1 250.0,97.5 251.0,97.5 251.0,97.9 252.0,97.9 252.0,98.5 253.0,98.5 253.0,96.5 254.0,96.5 254.0,96.0 255.0,96.0 255.0,98.0 256.0,98.0 256.0,96.3 257.0,96.3 257.0,96.6 258.0,96.6 258.0,96.2 259.0,96.2 259.0,94.3 260.0,94.3 260.0,96.8 261.0,96.8 261.0,95.9 262.0,95.9 262.0,94.2 263.0,94.2 263.0,94.2 264.0,94.2 264.0,93.3 265.0,93.3 265.0,92.2 266.0,92.2 266.0,92.3 267.0,92.3 267.0,92.2 268.0,92.2 268.0,92.3 269.0,92.3 269.0,91.6 270.0,91.6 270.0,90.8 271.0,90.8 271.0,91.2 272.0,91.2 272.0,89.4 273.0,89.4 273.0,90.0 274.0,90.0 274.0,89.8 275.0,89.8 275.0,88.7 276.0,88.7 276.0,87.6 277.0,87.6 277.0,88.2 278.0,88.2 278.0,89.0 279.0,89.0 279.0,89.5 280.0,89.5 280.0,90.5 281.0,90.5 281.0,89.2 282.0,89.2 282.0,90.3 283.0,90.3 283.0,91.0 284.0,91.0 284.0,90.8 285.0,90.8 285.0,89.4 286.0,89.4 286.0,91.6 287.0,91.6 287.0,92.5 288.0,92.5 288.0,91.2 289.0,91.2 289.0,89.4 290.0,89.4 290.0,89.0 291.0,89.0 291.0,88.6 292.0,88.6 292.0,89.1 293.0,89.1 293.0,87.1 294.0,87.1 294.0,86.1 295.0,86.1 295.0,86.1 296.0,86.1 296.0,84.5 297.0,84.5 297.0,84.7 298.0,84.7 298.0,82.6 299.0,82.6 299.0,82.0 300.0,82.0 300.0,81.9 301.0,81.9 301.0,81.5 302.0,81.5 302.0,80.6 303.0,80.6 303.0,79.9 304.0,79.9 304.0,78.5 305.0,78.5 305.0,78.8 306.0,78.8 306.0,78.9 307.0,78.9 307.0,79.3 308.0,79.3 308.0,80.3 309.0,80.3 309.0,80.5 310.0,80.5 310.0,81.6 311.0,81.6 311.0,81.9 312.0,81.9 312.0,82.4 313.0,82.4 313.0,83.3 314.0,83.3 314.0,84.1 315.0,84.1 315.0,85.0 316.0,85.0 316.0,84.6 317.0,84.6 317.0,84.9 318.0,84.9 318.0,84.3 319.0,84.3 319.0,85.6 320.0,85.6 320.0,85.1 321.0,85.1 321.0,83.7 322.0,83.7 322.0,83.0 323.0,83.0 323.0,82.0 324.0,82.0 324.0,82.1 325.0,82.1 325.0,81.5 326.0,81.5 326.0,81.8 327.0,81.8 327.0,80.5 328.0,80.5 328.0,79.7 329.0,79.7 329.0,78.8 330.0,78.8 330.0,80.5 331.0,80.5 331.0,80.2 332.0,80.2 332.0,79.6 333.0,79.6 333.0,80.6 334.0,80.6 334.0,80.1 335.0,80.1 335.0,82.8 336.0,82.8 336.0,82.1 337.0,82.1 337.0,82.1 338.0,82.1 338.0,81.9 339.0,81.9 339.0,81.0 340.0,81.0 340.0,81.8 341.0,81.8 341.0,80.7 342.0,80.7 342.0,81.3 343.0,81.3 343.0,79.5 344.0,79.5 344.0,79.4 345.0,79.4 345.0,79.6 346.0,79.6 346.0,79.0 347.0,79.0 347.0,77.0 348.0,77.0 348.0,75.9 349.0,75.9 349.0,75.8 350.0,75.8 350.0,74.6 351.0,74.6 351.0,72.9 352.0,72.9 352.0,72.0 353.0,72.0 353.0,71.2 354.0,71.2 354.0,70.5 355.0,70.5 355.0,70.2 356.0,70.2 356.0,70.6 357.0,70.6 357.0,70.4 358.0,70.4 358.0,70.9 359.0,70.9 359.0,70.5 360.0,70.5 360.0,70.9 361.0,70.9 361.0,71.1 362.0,71.1 362.0,72.0 363.0,72.0 363.0,72.3 364.0,72.3 364.0,73.1 365.0,73.1 365.0,75.1 366.0,75.1 366.0,76.7 367.0,76.7 367.0,77.9 368.0,77.9 368.0,79.6 369.0,79.6 369.0,80.4 370.0,80.4 370.0,81.1 371.0,81.1 371.0,82.6 372.0,82.6 372.0,83.5 373.0,83.5 373.0,84.0 374.0,84.0 374.0,84.3 375.0,84.3 375.0,84.7 376.0,84.7 376.0,85.2 377.0,85.2 377.0,84.9 378.0,84.9 378.0,84.1 379.0,84.1 379.0,84.6 380.0,84.6 380.0,83.4 381.0,83.4 381.0,83.0 382.0,83.0 382.0,82.8 383.0,82.8 383.0,81.4 384.0,81.4 384.0,80.5 385.0,80.5 385.0,81.6 386.0,81.6 386.0,80.8 387.0,80.8 387.0,81.6 388.0,81.6 388.0,81.1 389.0,81.1 389.0,81.4 390.0,81.4 390.0,81.4 391.0,81.4 391.0,80.2 392.0,80.2 392.0,81.7 393.0,81.7 393.0,81.4 394.0,81.4 394.0,81.7 395.0,81.7 395.0,82.3 396.0,82.3 396.0,83.5 397.0,83.5 397.0,84.2 398.0,84.2 398.0,84.9 399.0,84.9 399.0,84.2 400.0,84.2 400.0,85.6 401.0,85.6 401.0,85.5 402.0,85.5 402.0,87.7 403.0,87.7 403.0,89.0 404.0,89.0 404.0,89.0 405.0,89.0 405.0,90.4 406.0,90.4 406.0,91.2 407.0,91.2 407.0,92.5 408.0,92.5 408.0,91.9 409.0,91.9 409.0,92.5 410.0,92.5 410.0,93.1 411.0,93.1 411.0,95.4 412.0,95.4 412.0,95.2 413.0,95.2 413.0,94.5 414.0,94.5 414.0,94.9 415.0,94.9 415.0,94.9 416.0,94.9 416.0,94.9 417.0,94.9 417.0,94.3 418.0,94.3 418.0,93.5 419.0,93.5 419.0,92.0 420.0,92.0 420.0,92.0 421.0,92.0 421.0,93.2 422.0,93.2 422.0,91.9 423.0,91.9 423.0,91.2 424.0,91.2 424.0,90.7 425.0,90.7 425.0,90.5 426.0,90.5 426.0,90.4 427.0,90.4 427.0,89.4 428.0,89.4 428.0,89.7 429.0,89.7 429.0,89.6 430.0,89.6 430.0,89.1 431.0,89.1 431.0,89.4 432.0,89.4 432.0,90.0 433.0,90.0 433.0,90.8 434.0,90.8 434.0,93.2 435.0,93.2 435.0,91.9 436.0,91.9 436.0,94.7 437.0,94.7" fill="none" stroke="#6a006a" stroke-width="4.3" stroke-linejoin="round" stroke-linecap="butt"/><polyline points="430.7,89.6 431.5,89.9 432.2,90.4 432.9,91.0 433.7,91.7 434.4,92.5 435.2,93.3 436.0,94.2 436.7,95.2" fill="none" stroke="#6a006a" stroke-width="4.2" stroke-linejoin="round" stroke-linecap="butt"/><polyline points="436.0,95.3 437.6,95.3 437.6,97.6 439.2,97.6 439.2,100.3 440.8,100.3 440.8,103.8 442.4,103.8 442.4,106.8 444.0,106.8 444.0,109.1 445.6,109.1 445.6,112.5 447.2,112.5 447.2,114.9 448.8,114.9 448.8,117.9 450.4,117.9 450.4,121.8 452.0,121.8 452.0,129.4 453.6,129.4 453.6,146.1 455.2,146.1" fill="none" stroke="#6a006a" stroke-width="4.2" stroke-linejoin="round" stroke-linecap="butt"/><polyline points="454.0,146.2 532.0,146.2" fill="none" stroke="#6a006a" stroke-width="3.0" stroke-linejoin="round" stroke-linecap="butt"/><polyline points="465.3,146.0 465.3,141.0" fill="none" stroke="#6a006a" stroke-width="2.6" stroke-linejoin="round" stroke-linecap="butt"/></g>
<text x="27.5" y="32.8" font-size="8.7" text-anchor="end" textLength="8.9" lengthAdjust="spacingAndGlyphs" font-family="Liberation Sans, sans-serif" stroke="#000" stroke-width="0.22">10</text>
<text x="27.0" y="29.7" font-size="6" font-family="Liberation Sans, sans-serif" stroke="#000" stroke-width="0.22">3</text>
<text x="27.5" y="62.0" font-size="8.7" text-anchor="end" textLength="8.9" lengthAdjust="spacingAndGlyphs" font-family="Liberation Sans, sans-serif" stroke="#000" stroke-width="0.22">10</text>
<text x="27.0" y="58.9" font-size="6" font-family="Liberation Sans, sans-serif" stroke="#000" stroke-width="0.22">2</text>
<text x="30.6" y="91.2" font-size="8.7" text-anchor="end" textLength="8.9" lengthAdjust="spacingAndGlyphs" font-family="Liberation Sans, sans-serif" stroke="#000" stroke-width="0.22">10</text>
<text x="30.6" y="120.4" font-size="8.7" text-anchor="end" font-family="Liberation Sans, sans-serif" stroke="#000" stroke-width="0.22">1</text>
<text transform="translate(9.6 72.8) rotate(-90)" font-size="11.6" textLength="34.2" lengthAdjust="spacingAndGlyphs" text-anchor="middle" font-family="Liberation Sans, sans-serif" fill="#000" stroke="#000" stroke-width="0.12" style="will-change:auto;filter:grayscale(1)">Counts</text>
<rect x="201" y="-2.0" width="193" height="56.2" fill="#fff"/>
<path d="M201 -2.0V54.2H394V-2.0" fill="none" stroke="#222" stroke-width="1.3"/>
<path d="M208 5.8H242" stroke="#0000ff" stroke-width="2.6"/>
<text x="249.2" y="8.4" font-size="8.3" font-family="Liberation Sans, sans-serif" stroke="#000" stroke-width="0.22">Signal (0.0105 C)</text>
<path d="M208 16.6H242" stroke="#ff0000" stroke-width="2.6"/>
<text x="249.2" y="19.2" font-size="8.3" font-family="Liberation Sans, sans-serif" stroke="#000" stroke-width="0.22">Simulation</text>
<path d="M208 27.5H242" stroke="#ffc000" stroke-width="2.6"/>
<text x="249.2" y="30.1" font-size="8.3" font-family="Liberation Sans, sans-serif" stroke="#000" stroke-width="0.22"><tspan font-size="5.8" dy="-3.3">15</tspan><tspan dy="3.3">O simulation</tspan></text>
<path d="M208 38.3H242" stroke="#00ee00" stroke-width="2.6"/>
<text x="249.2" y="40.9" font-size="8.3" font-family="Liberation Sans, sans-serif" stroke="#000" stroke-width="0.22">Background</text>
<path d="M208 49.2H242" stroke="#6a006a" stroke-width="2.6"/>
<text x="249.2" y="51.8" font-size="8.3" font-family="Liberation Sans, sans-serif" stroke="#000" stroke-width="0.22"><tspan font-size="5.8" dy="-3.3">14</tspan><tspan dy="3.3">N simulation</tspan></text>
<path d="M84.62 146.3V292.0 M137.24 146.3V292.0 M189.86 146.3V292.0 M242.48 146.3V292.0 M295.10 146.3V292.0 M347.72 146.3V292.0 M400.34 146.3V292.0 M452.96 146.3V292.0 M505.58 146.3V292.0 M35.5 263.40H531.5 M35.5 234.10H531.5 M35.5 204.80H531.5 M35.5 175.50H531.5" stroke="#555" stroke-width="1" stroke-dasharray="1 2.2" fill="none"/>
<path d="M35.5 283.88h8 M35.5 278.72h8 M35.5 275.06h8 M35.5 272.22h8 M35.5 269.90h8 M35.5 267.94h8 M35.5 266.24h8 M35.5 264.74h8 M35.5 263.50h16 M35.5 254.58h8 M35.5 249.42h8 M35.5 245.76h8 M35.5 242.92h8 M35.5 240.60h8 M35.5 238.64h8 M35.5 236.94h8 M35.5 235.44h8 M35.5 234.50h16 M35.5 225.28h8 M35.5 220.12h8 M35.5 216.46h8 M35.5 213.62h8 M35.5 211.30h8 M35.5 209.34h8 M35.5 207.64h8 M35.5 206.14h8 M35.5 204.50h16 M35.5 195.98h8 M35.5 190.82h8 M35.5 187.16h8 M35.5 184.32h8 M35.5 182.00h8 M35.5 180.04h8 M35.5 178.34h8 M35.5 176.84h8 M35.5 175.50h16 M35.5 166.68h8 M35.5 161.52h8 M35.5 157.86h8 M35.5 155.02h8 M35.5 152.70h8 M35.5 150.74h8 M35.5 149.04h8 M35.5 147.54h8 M35.5 146.50h16" stroke="#333" stroke-width="1" fill="none"/>
<path d="M42.52 292.0v-1.8 M53.05 292.0v-1.8 M63.57 292.0v-1.8 M74.10 292.0v-1.8 M84.62 292.0v-4.5 M95.14 292.0v-1.8 M105.67 292.0v-1.8 M116.19 292.0v-1.8 M126.72 292.0v-1.8 M137.24 292.0v-4.5 M147.76 292.0v-1.8 M158.29 292.0v-1.8 M168.81 292.0v-1.8 M179.34 292.0v-1.8 M189.86 292.0v-4.5 M200.38 292.0v-1.8 M210.91 292.0v-1.8 M221.43 292.0v-1.8 M231.96 292.0v-1.8 M242.48 292.0v-4.5 M253.00 292.0v-1.8 M263.53 292.0v-1.8 M274.05 292.0v-1.8 M284.58 292.0v-1.8 M295.10 292.0v-4.5 M305.62 292.0v-1.8 M316.15 292.0v-1.8 M326.67 292.0v-1.8 M337.20 292.0v-1.8 M347.72 292.0v-4.5 M358.24 292.0v-1.8 M368.77 292.0v-1.8 M379.29 292.0v-1.8 M389.82 292.0v-1.8 M400.34 292.0v-4.5 M410.86 292.0v-1.8 M421.39 292.0v-1.8 M431.91 292.0v-1.8 M442.44 292.0v-1.8 M452.96 292.0v-4.5 M463.48 292.0v-1.8 M474.01 292.0v-1.8 M484.53 292.0v-1.8 M495.06 292.0v-1.8 M505.58 292.0v-4.5 M516.10 292.0v-1.8 M526.63 292.0v-1.8" stroke="#222" stroke-width="1" fill="none"/>
<path d="M35.5 146.3V292.0H531.5" fill="none" stroke="#111" stroke-width="1.2"/>
<path d="M35.5 146.5H531.5" fill="none" stroke="#1a1a1a" stroke-width="1"/>
<path d="M532 145.8V292.5" stroke="#7c7c7c" stroke-width="1.9"/>
<g clip-path="url(#cb)"><polyline points="35.6,214.0 35.6,213.0 35.6,211.5 35.6,209.8 35.7,208.1 35.7,206.4 35.8,205.0 35.9,203.9 36.0,202.8 36.1,201.9 36.2,201.1 36.4,200.3 36.6,199.5 36.8,198.8 37.1,198.1 37.3,197.5 37.6,197.0 37.9,196.5 38.3,196.0 38.7,195.6 39.2,195.3 39.7,195.0 40.2,194.8 40.7,194.6 41.2,194.4 41.7,194.2 42.2,194.1 42.8,194.1 43.3,194.0 43.7,193.9 44.0,193.9 45.8,194.3 46.8,194.2 47.8,194.2 49.0,194.3 50.0,194.4 51.0,194.6 51.8,194.7 52.4,194.9 52.9,195.3 53.3,195.7 53.6,196.0 53.9,196.2 54.2,196.0 54.5,195.5 54.8,194.7 55.1,193.7 55.3,192.6 55.5,191.5 55.8,190.5 56.0,189.5 56.3,188.4 56.5,187.3 56.7,186.3 57.0,185.3 57.3,184.5 57.6,183.8 58.0,183.1 58.4,182.6 58.8,182.1 59.2,181.8 59.6,181.7 60.0,181.8 60.3,182.1 60.7,182.5 61.0,183.1 61.4,183.7 61.8,184.5 62.2,185.5 62.6,186.8 63.1,188.1 63.5,189.4 64.0,190.5 64.4,191.1 64.8,191.2 65.2,191.0 65.6,190.4 66.0,189.8 66.4,189.1 66.8,188.5 67.2,187.9 67.6,187.2 68.1,186.5 68.6,185.8 69.1,185.2 69.8,184.8 70.7,184.6 71.7,184.5 72.8,184.6 73.9,184.6 74.9,184.6 75.8,184.5 76.6,184.2 77.2,183.9 77.8,183.6 78.4,183.1 78.9,182.6 79.4,182.0 79.9,181.3 80.2,180.5 80.6,179.6 80.9,178.6 81.3,177.6 81.9,176.6 82.5,175.3 83.3,173.9 84.1,172.4 85.0,171.1 85.9,170.2 86.7,169.7 87.4,169.8 88.1,170.3 88.7,171.1 89.3,172.1 89.8,173.2 90.4,174.4 90.8,175.6 91.2,177.1 91.6,178.7 92.0,180.4 92.3,182.1 92.6,183.8 92.9,185.5 93.2,187.2 93.5,188.9 93.8,190.7 94.1,192.4 94.4,194.2 94.8,196.2 95.2,198.4 95.6,200.7 96.0,202.7 96.4,204.3 96.9,205.1 97.4,205.1 98.0,204.3 98.5,203.0 99.1,201.5 99.7,200.1 100.4,199.0 101.1,198.2 101.9,197.4 102.7,196.7 103.6,196.2 104.4,195.8 105.2,195.7 106.0,195.9 106.9,196.5 107.7,197.2 108.5,198.0 109.3,198.8 110.0,199.5 110.6,200.1 111.1,200.8 111.5,201.5 112.0,202.1 112.5,202.6 113.0,202.9 113.6,203.0 114.3,202.8 115.0,202.5 115.7,202.2 116.5,202.0 117.2,201.9 118.0,202.0 118.8,202.3 119.6,202.6 120.4,202.9 121.2,203.3 122.0,203.8 122.8,204.3 123.6,204.9 124.5,205.6 125.3,206.3 126.1,207.0 126.8,207.6 127.5,208.2 128.0,208.7 128.6,209.1 129.2,209.6 129.7,210.2 130.4,210.8 131.1,211.7 131.9,212.6 132.7,213.6 133.6,214.6 134.4,215.5 135.2,216.2 136.0,216.7 136.8,217.1 137.5,217.3 138.3,217.5 139.1,217.6 140.0,217.8 141.0,218.1 142.0,218.5 143.1,218.8 144.1,219.0 145.1,219.2 146.0,219.2 146.8,219.0 147.4,218.8 148.0,218.4 148.6,218.0 149.1,217.6 149.6,217.3 150.0,216.9 150.4,216.5 150.8,216.1 151.1,215.7 151.4,215.3 151.8,214.9 152.2,214.4 152.6,213.9 153.1,213.4 153.5,212.9 154.0,212.5 154.4,212.2 154.8,211.9 155.2,211.7 155.5,211.5 155.9,211.4 156.3,211.3 156.8,211.4 157.4,211.5 158.1,211.7 158.8,211.9 159.5,212.3 160.2,212.6 160.8,213.0 161.3,213.4 161.7,213.8 162.0,214.3 162.4,214.8 162.8,215.3 163.3,216.0 163.9,216.8 164.6,217.8 165.3,218.9 166.1,219.9 166.8,220.9 167.6,221.7 168.3,222.4 169.0,222.9 169.7,223.4 170.5,223.8 171.4,224.2 172.4,224.5 173.7,224.8 175.2,224.9 176.9,225.1 178.5,225.2 179.8,225.2 180.8,225.3" fill="none" stroke="#0000ff" stroke-width="3.4" stroke-linejoin="round" stroke-linecap="butt"/><polyline points="172.0,228.1 173.3,228.1 173.3,225.7 174.6,225.7 174.6,226.5 175.9,226.5 175.9,226.3 177.2,226.3 177.2,226.9 178.5,226.9 178.5,225.1 179.8,225.1 179.8,225.9 181.1,225.9 181.1,225.7 182.4,225.7 182.4,225.5 183.7,225.5 183.7,225.8 185.0,225.8 185.0,226.1 186.3,226.1 186.3,226.3 187.6,226.3 187.6,225.9 188.9,225.9 188.9,226.9 190.2,226.9 190.2,226.1 191.5,226.1 191.5,223.8 192.8,223.8 192.8,227.3 194.1,227.3 194.1,226.0 195.4,226.0 195.4,225.6 196.7,225.6 196.7,226.4 198.0,226.4 198.0,226.4 199.3,226.4 199.3,226.3 200.6,226.3 200.6,225.6 201.9,225.6 201.9,226.5 203.2,226.5 203.2,225.2 204.5,225.2 204.5,227.7 205.8,227.7 205.8,225.5 207.1,225.5 207.1,226.4 208.4,226.4 208.4,226.6 209.7,226.6 209.7,226.7 211.0,226.7 211.0,226.3 212.3,226.3 212.3,227.0 213.6,227.0 213.6,223.7 214.9,223.7 214.9,226.6 216.2,226.6 216.2,226.7 217.5,226.7 217.5,226.7 218.8,226.7 218.8,228.5 220.1,228.5 220.1,226.6 221.4,226.6 221.4,227.5 222.7,227.5 222.7,225.9 224.0,225.9 224.0,227.9 225.3,227.9 225.3,226.3 226.6,226.3 226.6,226.3 227.9,226.3 227.9,229.7 229.2,229.7 229.2,228.2 230.5,228.2 230.5,227.6 231.8,227.6 231.8,227.7 233.1,227.7 233.1,226.2 234.4,226.2 234.4,226.5 235.7,226.5 235.7,227.7 237.0,227.7 237.0,225.5 238.3,225.5 238.3,227.5 239.6,227.5 239.6,225.8 240.9,225.8 240.9,227.3 242.2,227.3 242.2,226.3 243.5,226.3 243.5,228.7 244.8,228.7 244.8,228.0 246.1,228.0 246.1,226.7 247.4,226.7 247.4,225.5 248.7,225.5 248.7,226.4 250.0,226.4 250.0,227.0 251.3,227.0 251.3,226.2 252.6,226.2 252.6,227.2 253.9,227.2 253.9,227.8 255.2,227.8 255.2,226.8 256.5,226.8 256.5,226.5 257.8,226.5 257.8,227.4 259.1,227.4 259.1,226.4 260.4,226.4 260.4,227.3 261.7,227.3 261.7,226.2 263.0,226.2 263.0,227.7 264.3,227.7 264.3,226.0 265.6,226.0 265.6,225.2 266.9,225.2 266.9,226.0 268.2,226.0 268.2,225.3 269.5,225.3 269.5,224.9 270.8,224.9 270.8,225.5 272.1,225.5 272.1,226.1 273.4,226.1 273.4,223.7 274.7,223.7 274.7,225.5 276.0,225.5 276.0,225.5 277.3,225.5 277.3,225.6 278.6,225.6 278.6,226.3 279.9,226.3 279.9,224.4 281.2,224.4 281.2,225.8 282.5,225.8 282.5,224.9 283.8,224.9 283.8,224.9 285.1,224.9 285.1,224.4 286.4,224.4 286.4,224.0 287.7,224.0 287.7,223.5 289.0,223.5 289.0,223.7 290.3,223.7 290.3,224.3 291.6,224.3 291.6,222.9 292.9,222.9 292.9,222.0 294.2,222.0 294.2,221.1 295.5,221.1 295.5,219.8 296.8,219.8 296.8,219.9 298.1,219.9 298.1,220.2 299.4,220.2 299.4,217.6 300.7,217.6 300.7,218.3 302.0,218.3 302.0,217.8 303.3,217.8 303.3,217.0 304.6,217.0 304.6,217.0 305.9,217.0 305.9,217.3 307.2,217.3 307.2,217.9 308.5,217.9 308.5,217.7 309.8,217.7 309.8,218.2 311.1,218.2 311.1,217.8 312.4,217.8 312.4,218.5 313.7,218.5 313.7,218.6 315.0,218.6 315.0,219.0 316.3,219.0 316.3,218.8 317.6,218.8 317.6,219.6 318.9,219.6 318.9,220.1 320.2,220.1 320.2,219.1 321.5,219.1 321.5,219.4 322.8,219.4 322.8,219.5 324.1,219.5 324.1,219.0 325.4,219.0 325.4,219.5 326.7,219.5 326.7,218.9 328.0,218.9 328.0,217.9 329.3,217.9 329.3,217.8 330.6,217.8 330.6,218.6 331.9,218.6 331.9,218.4 333.2,218.4 333.2,218.4 334.5,218.4 334.5,217.7 335.8,217.7 335.8,217.4 337.1,217.4 337.1,216.1 338.4,216.1 338.4,217.5 339.7,217.5 339.7,215.8 341.0,215.8 341.0,216.2 342.3,216.2 342.3,214.3 343.6,214.3 343.6,213.5 344.9,213.5 344.9,212.7 346.2,212.7 346.2,211.4 347.5,211.4 347.5,210.4 348.8,210.4 348.8,210.1 350.1,210.1 350.1,209.2 351.4,209.2 351.4,208.3 352.7,208.3 352.7,207.4 354.0,207.4 354.0,206.8 355.3,206.8 355.3,206.7 356.6,206.7 356.6,206.5 357.9,206.5 357.9,206.6 359.2,206.6 359.2,206.9 360.5,206.9 360.5,206.7 361.8,206.7 361.8,206.6 363.1,206.6 363.1,206.8 364.4,206.8 364.4,207.7 365.7,207.7 365.7,207.4 367.0,207.4 367.0,207.5 368.3,207.5 368.3,207.6 369.6,207.6 369.6,207.7 370.9,207.7 370.9,207.5 372.2,207.5 372.2,207.9 373.5,207.9 373.5,207.7 374.8,207.7 374.8,206.2 376.1,206.2 376.1,207.1 377.4,207.1 377.4,208.2 378.7,208.2 378.7,206.4 380.0,206.4 380.0,206.8 381.3,206.8 381.3,207.0 382.6,207.0 382.6,206.4 383.9,206.4 383.9,206.7 385.2,206.7 385.2,205.5 386.5,205.5 386.5,205.3 387.8,205.3 387.8,205.5 389.1,205.5 389.1,205.1 390.4,205.1 390.4,204.8 391.7,204.8 391.7,205.1 393.0,205.1 393.0,204.9 394.3,204.9 394.3,204.6 395.6,204.6 395.6,204.3 396.9,204.3 396.9,204.4 398.2,204.4 398.2,204.2 399.5,204.2 399.5,203.8 400.8,203.8 400.8,204.0 402.1,204.0 402.1,203.8 403.4,203.8 403.4,203.4 404.7,203.4 404.7,203.2 406.0,203.2 406.0,202.1 407.3,202.1 407.3,201.7 408.6,201.7 408.6,200.8 409.9,200.8 409.9,200.4 411.2,200.4 411.2,199.0 412.5,199.0 412.5,198.1 413.8,198.1 413.8,196.4 415.1,196.4 415.1,194.2 416.4,194.2 416.4,192.4 417.7,192.4 417.7,191.3 419.0,191.3 419.0,189.8 420.3,189.8 420.3,188.7 421.6,188.7 421.6,187.5 422.9,187.5 422.9,186.9 424.2,186.9 424.2,185.9 425.5,185.9 425.5,185.3 426.8,185.3 426.8,184.8 428.1,184.8 428.1,184.5 429.4,184.5 429.4,184.5 430.7,184.5 430.7,185.3 432.0,185.3 432.0,185.7 433.3,185.7 433.3,186.4 434.6,186.4 434.6,187.6 435.9,187.6 435.9,189.0 437.2,189.0 437.2,191.7 438.5,191.7 438.5,194.2 439.8,194.2 439.8,197.2 441.1,197.2 441.1,199.7 442.4,199.7 442.4,202.6 443.7,202.6 443.7,205.3 445.0,205.3 445.0,210.2 446.3,210.2 446.3,214.0 447.6,214.0 447.6,217.4 448.9,217.4 448.9,222.2 450.2,222.2 450.2,226.0 451.5,226.0 451.5,230.9 452.8,230.9 452.8,234.7 454.1,234.7 454.1,239.0 455.4,239.0" fill="none" stroke="#0000ff" stroke-width="3.0" stroke-linejoin="round" stroke-linecap="butt"/><polygon points="453.5,232.4 454.8,232.4 454.8,236.4 456.1,236.4 456.1,237.8 457.4,237.8 457.4,240.2 458.7,240.2 458.7,243.9 460.0,243.9 460.0,247.4 461.3,247.4 461.3,247.9 462.6,247.9 462.6,248.2 463.9,248.2 463.9,250.3 465.2,250.3 465.2,252.4 466.5,252.4 466.5,254.1 467.8,254.1 467.8,254.0 469.1,254.0 469.1,254.5 470.4,254.5 470.4,255.0 471.7,255.0 471.7,255.5 473.0,255.5 473.0,254.9 474.3,254.9 474.3,255.7 475.6,255.7 475.6,256.2 476.9,256.2 476.9,257.4 478.2,257.4 478.2,255.7 479.5,255.7 479.5,256.4 480.8,256.4 480.8,254.5 482.1,254.5 482.1,256.0 483.4,256.0 483.4,255.2 484.7,255.2 484.7,255.2 486.0,255.2 486.0,256.3 487.3,256.3 487.3,257.8 488.6,257.8 488.6,257.4 489.9,257.4 489.9,259.3 491.2,259.3 491.2,260.7 492.5,260.7 492.5,261.7 493.8,261.7 493.8,262.6 495.1,262.6 495.1,261.0 496.4,261.0 496.4,263.4 497.7,263.4 497.7,263.6 499.0,263.6 499.0,266.1 500.3,266.1 500.3,266.5 501.6,266.5 501.6,267.7 502.9,267.7 502.9,269.1 504.2,269.1 504.2,268.9 505.5,268.9 505.5,270.2 506.8,270.2 506.8,270.1 508.1,270.1 508.1,273.2 509.4,273.2 509.4,271.6 510.7,271.6 510.7,271.0 512.0,271.0 512.0,268.5 513.3,268.5 513.3,267.8 514.6,267.8 514.6,268.4 515.9,268.4 515.9,270.1 517.2,270.1 517.2,270.2 518.5,270.2 518.5,271.9 519.8,271.9 519.8,273.5 521.1,273.5 521.1,276.4 522.4,276.4 522.4,273.5 523.7,273.5 523.7,273.3 525.0,273.3 525.0,274.5 526.3,274.5 526.3,273.2 527.6,273.2 527.6,274.4 528.9,274.4 528.9,275.5 530.2,275.5 530.2,275.1 531.5,275.1 531.5,276.1 532.8,276.1 532.8,276.1 534.1,276.1 533.0,285.3 531.7,285.3 531.7,283.7 530.4,283.7 530.4,287.5 529.1,287.5 529.1,283.1 527.8,283.1 527.8,282.2 526.5,282.2 526.5,282.6 525.2,282.6 525.2,281.4 523.9,281.4 523.9,281.1 522.6,281.1 522.6,282.7 521.3,282.7 521.3,281.4 520.0,281.4 520.0,283.0 518.7,283.0 518.7,281.7 517.4,281.7 517.4,279.8 516.1,279.8 516.1,280.3 514.8,280.3 514.8,280.9 513.5,280.9 513.5,279.6 512.2,279.6 512.2,282.1 510.9,282.1 510.9,282.0 509.6,282.0 509.6,283.6 508.3,283.6 508.3,281.5 507.0,281.5 507.0,282.4 505.7,282.4 505.7,283.5 504.4,283.5 504.4,283.9 503.1,283.9 503.1,281.3 501.8,281.3 501.8,283.4 500.5,283.4 500.5,279.7 499.2,279.7 499.2,280.9 497.9,280.9 497.9,278.1 496.6,278.1 496.6,276.9 495.3,276.9 495.3,274.9 494.0,274.9 494.0,275.6 492.7,275.6 492.7,278.4 491.4,278.4 491.4,274.2 490.1,274.2 490.1,276.4 488.8,276.4 488.8,274.8 487.5,274.8 487.5,271.4 486.2,271.4 486.2,272.0 484.9,272.0 484.9,271.1 483.6,271.1 483.6,268.1 482.3,268.1 482.3,267.1 481.0,267.1 481.0,268.4 479.7,268.4 479.7,266.6 478.4,266.6 478.4,268.1 477.1,268.1 477.1,265.1 475.8,265.1 475.8,262.9 474.5,262.9 474.5,264.6 473.2,264.6 473.2,263.5 471.9,263.5 471.9,266.2 470.6,266.2 470.6,266.4 469.3,266.4 469.3,265.3 468.0,265.3 468.0,264.5 466.7,264.5 466.7,265.8 465.4,265.8 465.4,263.4 464.1,263.4 464.1,264.5 462.8,264.5 462.8,260.9 461.5,260.9 461.5,258.4 460.2,258.4 460.2,254.5 458.9,254.5 458.9,250.2 457.6,250.2 457.6,251.2 456.3,251.2 456.3,244.7 455.0,244.7 455.0,236.6 453.7,236.6 453.7,233.2 452.4,233.2" fill="#0000ff" stroke="#0000ff" stroke-width="0.8" stroke-linejoin="round"/><polyline points="493.0,293.0 493.0,276.0" fill="none" stroke="#0000ff" stroke-width="1.9" stroke-linejoin="round" stroke-linecap="butt"/><polyline points="497.4,293.0 497.4,278.0" fill="none" stroke="#0000ff" stroke-width="1.9" stroke-linejoin="round" stroke-linecap="butt"/><polyline points="501.7,293.0 501.7,281.0" fill="none" stroke="#0000ff" stroke-width="1.9" stroke-linejoin="round" stroke-linecap="butt"/><polyline points="515.5,293.0 515.5,279.0" fill="none" stroke="#0000ff" stroke-width="1.9" stroke-linejoin="round" stroke-linecap="butt"/><polyline points="526.0,293.0 526.0,280.0" fill="none" stroke="#0000ff" stroke-width="1.9" stroke-linejoin="round" stroke-linecap="butt"/><polyline points="36.8,208.0 36.8,207.4 36.9,206.6 36.9,205.7 37.0,204.7 37.1,203.8 37.2,203.0 37.3,202.4 37.5,201.8 37.6,201.3 37.8,200.9 38.0,200.4 38.2,200.0 38.4,199.6 38.7,199.1 39.0,198.7 39.3,198.3 39.7,198.0 40.2,197.6 40.8,197.2 41.5,196.9 42.4,196.5 43.2,196.2 44.1,196.0 45.0,195.8 46.0,195.7 47.0,195.7 48.2,195.8 49.2,195.9 50.2,196.1 51.0,196.2 51.6,196.4 52.1,196.8 52.5,197.2 52.8,197.5 53.1,197.7 53.4,197.5 53.7,197.0 54.0,196.2 54.3,195.2 54.5,194.1 54.7,193.0 55.0,192.0 55.2,191.0 55.5,189.9 55.7,188.8 55.9,187.8 56.2,186.8 56.5,186.0 56.8,185.3 57.2,184.6 57.6,184.1 58.0,183.6 58.4,183.3 58.8,183.2 59.2,183.3 59.5,183.6 59.9,184.0 60.2,184.6 60.6,185.2 61.0,186.0 61.4,187.0 61.8,188.3 62.3,189.6 62.7,190.9 63.2,192.0 63.6,192.6 64.0,192.7 64.4,192.5 64.8,191.9 65.2,191.3 65.6,190.6 66.0,190.0 66.4,189.4 66.8,188.7 67.3,188.0 67.8,187.3 68.3,186.7 69.0,186.3 69.9,186.1 70.9,186.0 72.0,186.1 73.1,186.1 74.1,186.1 75.0,186.0 75.8,185.7 76.4,185.4 77.0,185.1 77.6,184.6 78.1,184.1 78.6,183.5 79.0,182.8 79.4,182.0 79.8,181.1 80.1,180.1 80.5,179.1 81.0,178.0 81.6,176.7 82.3,175.2 83.1,173.7 83.8,172.2 84.5,171.1 85.2,170.5 85.8,170.4 86.3,170.7 86.8,171.4 87.3,172.3 87.7,173.3 88.2,174.4 88.6,175.7 89.0,177.1 89.4,178.8 89.8,180.5 90.2,182.3 90.6,184.0 91.0,185.7 91.4,187.5 91.8,189.4 92.2,191.2 92.6,193.1 93.0,195.0 93.5,197.1 93.9,199.4 94.4,201.8 94.9,203.9 95.5,205.6 96.0,206.5 96.6,206.5 97.1,205.7 97.7,204.4 98.3,202.9 98.9,201.5 99.6,200.5 100.3,199.7 101.1,198.9 101.9,198.2 102.8,197.7 103.6,197.3 104.4,197.2 105.2,197.4 106.1,198.0 106.9,198.7 107.7,199.5 108.5,200.3 109.2,201.0 109.8,201.6 110.3,202.3 110.7,203.0 111.2,203.6 111.7,204.1 112.2,204.4 112.8,204.5 113.5,204.3 114.2,204.0 114.9,203.7 115.7,203.5 116.4,203.4 117.2,203.5 118.0,203.7 118.8,204.0 119.6,204.4 120.4,204.8 121.2,205.2 122.0,205.7 122.8,206.3 123.7,206.9 124.5,207.5 125.3,208.1 126.0,208.6 126.7,209.0 127.2,209.4 127.8,209.8 128.4,210.1 128.9,210.5 129.6,211.0 130.3,211.6 131.1,212.3 131.9,213.1 132.8,213.8 133.6,214.5 134.4,215.0 135.2,215.3 136.0,215.5 136.7,215.7 137.5,215.8 138.3,215.9 139.2,216.2 140.2,216.6 141.2,217.2 142.3,217.7 143.3,218.3 144.3,218.7 145.2,219.0 146.0,219.1 146.6,219.0 147.2,218.8 147.8,218.5 148.3,218.3 148.8,218.0 149.2,217.7 149.6,217.4 150.0,217.1 150.3,216.7 150.6,216.4 151.0,216.0 151.4,215.6 151.8,215.1 152.3,214.7 152.7,214.2 153.2,213.8 153.6,213.5 154.0,213.3 154.4,213.0 154.7,212.9 155.1,212.8 155.5,212.8 156.0,212.8 156.6,212.9 157.3,213.1 158.0,213.4 158.7,213.7 159.4,214.1 160.0,214.5 160.5,214.9 160.9,215.3 161.2,215.8 161.6,216.3 162.0,216.8 162.5,217.5 163.1,218.3 163.8,219.3 164.5,220.4 165.3,221.4 166.0,222.4 166.8,223.2 167.5,223.9 168.2,224.4 168.9,224.9 169.7,225.3 170.6,225.7 171.6,226.0 172.9,226.3 174.4,226.4 176.1,226.6 177.7,226.7 179.0,226.7 180.0,226.8 180.9,227.5 182.1,227.5 183.6,227.6 185.2,227.7 186.8,227.8 188.4,227.8 189.9,227.8 191.5,227.7 193.1,227.6 194.8,227.5 196.4,227.4 198.0,227.4 199.6,227.4 201.3,227.5 203.0,227.6 204.7,227.7 206.2,227.7 207.6,227.8 208.8,227.8 209.7,227.8 210.5,227.8 211.4,227.7 212.4,227.7 213.6,227.8 215.1,227.9 216.7,228.2 218.5,228.4 220.3,228.7 222.3,228.9 224.4,229.0 226.5,229.0 228.8,229.0 231.1,228.9 233.6,228.8 236.2,228.7 238.9,228.6 241.9,228.5 245.1,228.5 248.5,228.4 251.9,228.3 255.1,228.2 258.1,228.1 260.9,227.9 263.6,227.7 266.1,227.4 268.5,227.2 270.7,226.9 272.6,226.8 274.1,226.8 275.3,226.8 276.3,226.9 277.2,227.0 278.2,227.0 279.4,226.9 280.8,226.7 282.4,226.5 284.1,226.2 285.7,225.8 287.3,225.4 288.8,225.0 290.1,224.5 291.4,223.9 292.6,223.2 293.8,222.6 295.0,221.9 296.3,221.3 297.7,220.7 299.1,220.0 300.6,219.3 302.1,218.7 303.5,218.2 304.7,217.9 305.8,217.8 306.7,217.8 307.6,217.9 308.5,218.1 309.3,218.3 310.3,218.5 311.3,218.8 312.4,219.1 313.5,219.4 314.6,219.8 315.7,220.1 316.9,220.3 318.1,220.4 319.3,220.5 320.5,220.5 321.7,220.5 323.0,220.4 324.4,220.3 325.9,220.2 327.5,220.0 329.1,219.8 330.7,219.5 332.3,219.3 333.8,219.0 335.2,218.7 336.5,218.5 337.8,218.2 339.0,217.9 340.2,217.6 341.3,217.1 342.3,216.5 343.3,215.8 344.2,215.1 345.1,214.3 346.0,213.5 346.9,212.8 347.8,212.1 348.8,211.4 349.7,210.8 350.7,210.1 351.7,209.6 352.6,209.1 353.5,208.7 354.4,208.4 355.3,208.2 356.2,208.0 357.2,207.9 358.2,207.8 359.4,207.8 360.6,207.9 362.0,208.1 363.3,208.2 364.6,208.4 365.7,208.5 366.6,208.6 367.4,208.6 368.2,208.7 368.9,208.7 369.8,208.7 370.9,208.7 372.2,208.6 373.7,208.6 375.3,208.5 377.0,208.4 378.7,208.2 380.5,208.0 382.4,207.8 384.4,207.4 386.4,207.1 388.5,206.8 390.6,206.4 392.6,206.1 394.7,205.8 396.8,205.6 398.9,205.4 401.0,205.2 402.9,204.8 404.6,204.4 406.1,203.9 407.4,203.3 408.5,202.7 409.6,201.9 410.7,201.1 411.8,200.1 413.0,198.9 414.2,197.5 415.4,196.0 416.6,194.4 417.8,193.0 419.0,191.7 420.2,190.6 421.5,189.5 422.7,188.5 424.0,187.7 425.1,186.9 426.2,186.4 427.1,186.0 428.0,185.9 428.7,185.8 429.5,185.9 430.2,186.1 431.1,186.4 432.0,186.8 433.0,187.2 434.0,187.8 435.1,188.5 436.1,189.4 437.1,190.5 438.1,191.9 439.1,193.5 440.2,195.3 441.2,197.2 442.2,199.2 443.1,201.3 444.0,203.5 444.8,205.8 445.6,208.3 446.3,210.8 447.1,213.3 447.9,215.7 448.7,218.1 449.5,220.6" fill="none" stroke="#ff0000" stroke-width="3.4" stroke-linejoin="round" stroke-linecap="butt"/><polyline points="35.6,293.0 35.6,290.7 35.6,287.5 35.7,283.7 35.7,279.7 35.8,275.9 35.8,272.7 35.8,270.1 35.9,267.8 35.9,265.6 36.0,263.6 36.1,261.5 36.2,259.2 36.3,256.8 36.5,254.3 36.6,251.8 36.8,249.2 37.0,246.5 37.3,243.8 37.6,240.9 38.0,237.8 38.4,234.6 38.8,231.5 39.2,228.6 39.6,226.0 39.9,223.7 40.2,221.5 40.4,219.6 40.7,217.8 41.0,216.3 41.4,215.0 41.9,214.1 42.4,213.5 43.0,213.2 43.6,212.9 44.3,212.7 45.0,212.4 45.8,212.0 46.6,211.7 47.5,211.4 48.3,211.1 49.1,210.7 49.8,210.2 50.3,209.7 50.8,209.1 51.2,208.4 51.5,207.7 51.9,206.9 52.2,206.0 52.5,204.9 52.8,203.7 53.1,202.3 53.4,201.0 53.7,199.6 54.0,198.2 54.3,196.8 54.6,195.3 54.9,193.9 55.2,192.4 55.5,191.1 55.8,190.0 56.1,189.1 56.3,188.2 56.5,187.5 56.7,186.9 57.0,186.4 57.2,186.0 57.5,185.6 57.7,185.3 58.0,185.1 58.3,185.0 58.5,185.1 58.8,185.2 59.1,185.5 59.3,185.9 59.6,186.4 59.9,187.0 60.2,187.7 60.5,188.5 60.8,189.4 61.2,190.6 61.5,191.8 61.9,193.0 62.2,194.1 62.5,195.0 62.7,195.7 62.9,196.4 63.1,197.0 63.2,197.4 63.4,197.7 63.6,197.8 63.9,197.7 64.2,197.3 64.5,196.8 64.8,196.2 65.2,195.6 65.5,195.0 65.8,194.4 66.1,193.7 66.5,193.0 66.8,192.3 67.3,191.6 67.8,191.0 68.5,190.4 69.3,189.8 70.2,189.3 71.0,188.8 71.9,188.3 72.6,188.0 73.2,187.8 73.7,187.8 74.2,187.8 74.6,187.8 75.0,187.7 75.5,187.5 76.0,187.1 76.5,186.6 77.1,186.1 77.6,185.5 78.1,184.8 78.6,184.0 79.0,183.1 79.4,182.2 79.8,181.2 80.2,180.1 80.6,179.0 81.0,178.0 81.4,176.9 81.9,175.8 82.3,174.7 82.7,173.7 83.1,172.7 83.5,172.0 83.8,171.5 84.1,171.1 84.4,170.8 84.7,170.6 84.9,170.6 85.2,170.5 85.5,170.5 85.8,170.6 86.1,170.7 86.4,170.9 86.7,171.2 87.0,171.5 87.2,171.8 87.4,172.1 87.6,172.4 87.7,172.9 87.9,173.5 88.2,174.4 88.5,175.6 88.9,177.1 89.4,178.7 89.8,180.4 90.2,182.2 90.6,184.0 91.0,185.8 91.3,187.6 91.6,189.5 91.9,191.4 92.2,193.2 92.5,195.0 92.7,196.7 92.9,198.4 93.0,200.1 93.2,201.7 93.4,203.4 93.6,205.0 93.9,206.7 94.2,208.3 94.5,210.0 94.9,211.6 95.2,213.1 95.5,214.5 95.8,215.7 96.0,216.9 96.2,217.9 96.4,218.8 96.7,219.7 97.2,220.4 97.8,221.0 98.5,221.5 99.3,221.8 100.1,222.1 101.0,222.4 102.0,222.8 103.1,223.2 104.3,223.6 105.5,224.0 106.8,224.4 108.0,224.8 109.2,225.2 110.3,225.5 111.3,225.9 112.3,226.2 113.2,226.5 114.2,226.7 115.2,227.0 116.2,227.2 117.2,227.5 118.2,227.7 119.2,227.9 120.2,228.0 121.2,228.2 122.2,228.3 123.2,228.5 124.2,228.6 125.3,228.7 126.2,228.7 127.2,228.8 128.1,228.8 129.0,228.8 129.8,228.8 130.7,228.8 131.5,228.8 132.4,228.8 133.3,228.9 134.3,229.0 135.3,229.1 136.3,229.2 137.2,229.4 138.0,229.6 138.7,229.8 139.4,230.1 140.0,230.4 140.5,230.7 141.1,231.2 141.6,231.8 142.1,232.6 142.6,233.5 143.1,234.6 143.5,235.7 144.0,236.9 144.4,238.0 144.9,239.2 145.3,240.5 145.8,241.9 146.2,243.2 146.5,244.2 146.8,245.0" fill="none" stroke="#ffc000" stroke-width="3.4" stroke-linejoin="round" stroke-linecap="butt"/><polygon points="145.5,243.3 148.1,243.3 148.1,248.3 150.7,248.3 150.7,253.7 153.3,253.7 153.3,257.0 155.9,257.0 155.9,260.9 158.5,260.9 158.5,261.5 161.1,261.5 161.1,264.6 163.7,264.6 163.7,266.7 166.3,266.7 166.3,270.3 168.9,270.3 168.9,272.6 171.5,272.6 171.5,272.5 174.1,272.5 174.1,275.4 176.7,275.4 176.7,274.8 179.3,274.8 179.3,276.9 181.9,276.9 181.9,279.6 184.5,279.6 184.5,278.9 187.1,278.9 187.1,280.1 189.7,280.1 189.7,282.6 192.3,282.6 192.3,283.5 194.9,283.5 194.9,293.0 197.5,293.0 197.5,293.0 194.9,293.0 194.9,292.9 192.3,292.9 192.3,293.0 189.7,293.0 189.7,293.0 187.1,293.0 187.1,290.3 184.5,290.3 184.5,292.9 181.9,292.9 181.9,293.0 179.3,293.0 179.3,292.1 176.7,292.1 176.7,292.2 174.1,292.2 174.1,291.0 171.5,291.0 171.5,287.2 168.9,287.2 168.9,281.2 166.3,281.2 166.3,277.4 163.7,277.4 163.7,276.7 161.1,276.7 161.1,271.4 158.5,271.4 158.5,268.9 155.9,268.9 155.9,261.0 153.3,261.0 153.3,260.6 150.7,260.6 150.7,254.1 148.1,254.1 148.1,247.0 145.5,247.0" fill="#ffc000" stroke="#ffc000" stroke-width="0.8" stroke-linejoin="round"/><polyline points="177.5,293.0 177.5,272.0" fill="none" stroke="#ffc000" stroke-width="1.6" stroke-linejoin="round" stroke-linecap="butt"/><polyline points="188.0,293.0 188.0,278.0" fill="none" stroke="#ffc000" stroke-width="1.6" stroke-linejoin="round" stroke-linecap="butt"/><polyline points="172.0,291.2 214.0,291.2" fill="none" stroke="#ffc000" stroke-width="1.8" stroke-linejoin="round" stroke-linecap="butt"/><polyline points="35.6,231.0 35.6,230.0 35.6,228.7 35.7,227.1 35.7,225.3 35.7,223.6 35.8,222.0 35.9,220.5 35.9,219.0 36.0,217.5 36.0,216.0 36.2,214.5 36.3,213.0 36.5,211.5 36.6,209.8 36.9,208.2 37.1,206.7 37.4,205.3 37.8,204.2 38.2,203.3 38.7,202.7 39.2,202.2 39.9,201.8 40.6,201.5 41.4,201.2 42.4,200.9 43.7,200.7 45.0,200.5 46.3,200.4 47.6,200.4 48.6,200.6 49.4,200.9 50.1,201.3 50.6,201.8 51.1,202.5 51.6,203.3 52.2,204.2 52.8,205.4 53.4,206.9 54.1,208.5 54.7,210.2 55.3,211.6 55.8,212.6 56.3,213.3 56.6,213.7 57.0,213.9 57.4,214.0 57.7,214.0 58.2,213.8 58.7,213.4 59.3,212.8 59.9,212.0 60.6,211.2 61.2,210.6 61.8,210.2 62.4,210.1 63.0,210.1 63.6,210.2 64.2,210.5 64.8,210.9 65.4,211.5 66.0,212.3 66.6,213.3 67.1,214.5 67.7,215.7 68.3,216.9 69.0,218.0 69.7,219.0 70.5,220.0 71.3,220.9 72.2,221.8 73.0,222.6 73.8,223.2 74.6,223.7 75.4,224.0 76.2,224.2 77.0,224.3 77.8,224.4 78.6,224.4 79.4,224.3 80.2,224.2 80.9,223.9 81.7,223.7 82.5,223.4 83.4,223.2 84.3,223.0 85.4,222.8 86.4,222.6 87.4,222.5 88.5,222.3 89.4,222.2 90.3,222.1 91.2,222.0 92.0,221.9 92.8,221.9 93.5,221.8 94.2,221.8 94.8,221.8 95.2,221.8 95.6,221.8 96.1,221.8 96.6,221.7 97.2,221.6 98.0,221.4 98.9,221.1 99.9,220.7 100.9,220.3 102.0,219.9 103.0,219.5 104.0,219.1 105.1,218.7 106.2,218.4 107.2,217.9 108.2,217.4 109.2,216.8 110.1,216.0 110.9,215.1 111.8,214.1 112.5,213.1 113.3,212.1 114.0,211.4 114.7,210.8 115.3,210.2 115.9,209.7 116.4,209.4 117.0,209.2 117.6,209.2 118.2,209.5 118.8,209.9 119.4,210.6 120.0,211.4 120.6,212.2 121.2,213.2 121.8,214.3 122.4,215.6 123.0,216.9 123.6,218.3 124.2,219.7 124.8,221.0 125.4,222.2 126.1,223.5 126.7,224.7 127.3,225.8 127.9,226.8 128.4,227.6 128.8,228.2 129.0,228.4 129.2,228.6 129.4,228.8 129.6,229.1 130.0,229.8 130.5,230.9 131.0,232.2 131.5,233.8 132.1,235.3 132.8,236.8 133.6,238.0 134.4,239.0 135.3,239.9 136.3,240.7 137.3,241.3 138.4,241.9 139.6,242.2 140.9,242.3 142.3,242.1 143.8,241.8 145.3,241.5 146.7,241.2 148.0,241.0 149.2,240.9 150.2,240.9 151.2,240.8 152.2,240.9 153.1,241.0 154.0,241.2 154.9,241.5 155.7,241.8 156.5,242.3 157.2,242.8 158.0,243.3 158.8,244.0 159.6,244.8 160.4,245.6 161.1,246.6 161.9,247.5 162.7,248.5 163.6,249.5 164.6,250.5 165.6,251.5 166.7,252.5 167.7,253.5 168.7,254.5 169.6,255.5 170.3,256.4 170.8,257.2 171.3,258.0 171.7,258.8 172.3,259.7 173.0,260.7 173.9,261.9 174.9,263.2 176.0,264.5 177.1,265.9 178.2,267.3 179.3,268.6 180.4,269.9 181.4,271.2 182.5,272.5 183.5,273.7 184.6,274.8 185.6,275.7 186.6,276.4 187.6,276.9 188.7,277.2 189.7,277.5 190.8,277.8 191.9,278.0 193.1,278.2 194.4,278.2 195.8,278.2 197.2,278.2 198.5,278.4 199.7,278.8 200.8,279.4 201.9,280.3 202.9,281.2 204.0,282.2 205.0,283.3 206.0,284.3 207.1,285.4 208.1,286.5 209.2,287.7 210.2,288.8 211.2,289.8 212.3,290.6 213.4,291.1 214.6,291.5 215.8,291.7 217.0,291.9 217.9,292.0 219.0,292.3 533.0,292.3" fill="none" stroke="#00ee00" stroke-width="3.0" stroke-linejoin="round" stroke-linecap="butt"/><polyline points="36.5,293.0 36.5,290.8 36.5,287.6 36.5,283.9 36.6,280.0 36.6,276.2 36.7,273.0 36.8,270.3 37.0,267.8 37.1,265.4 37.3,263.2 37.5,261.1 37.7,259.0 37.9,257.0 38.1,255.2 38.4,253.5 38.6,251.7 38.9,249.9 39.2,248.0 39.5,245.8 39.9,243.5 40.2,241.0 40.6,238.6 41.0,236.4 41.3,234.5 41.6,232.8 41.9,231.3 42.2,230.0 42.5,228.8 42.8,227.8 43.2,227.0 43.6,226.4 44.1,225.9 44.5,225.7 45.0,225.6 45.6,225.5 46.2,225.6 46.9,225.8 47.7,226.2 48.5,226.7 49.3,227.2 50.2,227.7 51.0,228.0 51.8,228.2 52.6,228.2 53.5,228.3 54.3,228.2 55.1,228.1 55.8,228.0 56.5,227.8 57.1,227.4 57.7,227.0 58.2,226.6 58.8,226.3 59.4,226.2 60.0,226.3 60.6,226.7 61.2,227.1 61.8,227.5 62.4,227.8 63.0,228.0 63.5,228.1 64.0,228.2 64.5,228.2 65.0,228.0 65.5,227.4 66.0,226.5 66.5,224.9 67.0,222.8 67.5,220.3 68.0,217.8 68.5,215.5 69.0,213.6 69.5,212.1 70.0,210.7 70.5,209.5 71.0,208.6 71.5,207.9 72.0,207.5 72.4,207.4 72.8,207.7 73.2,208.2 73.6,208.9 74.0,209.9 74.4,211.0 74.9,212.4 75.4,214.2 75.9,216.2 76.4,218.3 76.9,220.3 77.4,222.0 77.9,223.5 78.4,225.0 78.9,226.4 79.4,227.7 79.9,228.7 80.4,229.5 80.9,230.0 81.4,230.2 81.9,230.2 82.4,230.1 82.9,230.0 83.4,229.8 84.0,229.6 84.6,229.3 85.2,228.9 85.8,228.5 86.4,228.2 87.0,228.0 87.5,228.0 88.0,228.0 88.4,228.2 88.9,228.3 89.4,228.3 90.0,228.2 90.7,228.0 91.5,227.7 92.4,227.4 93.2,226.9 94.0,226.2 94.8,225.2 95.5,223.9 96.1,222.2 96.7,220.3 97.2,218.3 97.8,216.3 98.4,214.4 99.0,212.5 99.6,210.5 100.3,208.5 100.9,206.6 101.5,204.9 102.0,203.6 102.5,202.6 102.8,201.7 103.2,201.1 103.6,200.7 103.9,200.5 104.4,200.6 104.9,200.9 105.5,201.5 106.1,202.4 106.8,203.4 107.4,204.6 108.0,206.0 108.6,207.7 109.2,209.7 109.8,211.8 110.4,214.1 111.0,216.2 111.6,218.0 112.2,219.6 112.8,221.2 113.4,222.6 114.0,223.8 114.6,224.9 115.2,225.8 115.8,226.4 116.4,226.8 117.0,227.0 117.6,227.1 118.2,227.1 118.8,227.0 119.4,226.8 119.9,226.4 120.4,226.0 121.0,225.5 121.7,225.0 122.4,224.6 123.3,224.2 124.2,223.8 125.3,223.4 126.3,223.1 127.4,222.9 128.4,222.8 129.4,222.9 130.4,223.1 131.4,223.4 132.4,223.8 133.4,224.2 134.4,224.6 135.4,225.0 136.4,225.4 137.5,225.9 138.5,226.4 139.5,226.7 140.4,227.0 141.3,227.2 142.1,227.3 142.9,227.4 143.6,227.4 144.4,227.3 145.2,227.0 146.0,226.6 146.8,226.0 147.7,225.3 148.5,224.5 149.3,223.7 150.0,222.8 150.7,221.9 151.3,220.8 151.9,219.7 152.5,218.6 153.1,217.6 153.6,216.8 154.1,216.2 154.5,215.7 154.8,215.3 155.2,215.0 155.6,214.7 156.0,214.6 156.5,214.5 156.9,214.6 157.4,214.7 157.9,214.9 158.5,215.1 159.0,215.5 159.5,216.0 160.1,216.5 160.6,217.2 161.2,217.9 161.8,218.7 162.4,219.5 163.1,220.4 163.8,221.3 164.5,222.3 165.3,223.3 166.0,224.2 166.8,225.0 167.5,225.6 168.2,226.2 169.0,226.6 169.7,227.0 170.6,227.3 171.6,227.5 172.9,227.6 174.4,227.7 176.1,227.6 177.7,227.5 179.0,227.4 180.0,227.4" fill="none" stroke="#6a006a" stroke-width="3.4" stroke-linejoin="round" stroke-linecap="butt"/><polyline points="172.0,226.5 173.3,226.5 173.3,227.3 174.6,227.3 174.6,227.8 175.9,227.8 175.9,227.3 177.2,227.3 177.2,227.5 178.5,227.5 178.5,226.6 179.8,226.6 179.8,227.3 181.1,227.3 181.1,227.3 182.4,227.3 182.4,228.1 183.7,228.1 183.7,227.8 185.0,227.8 185.0,227.7 186.3,227.7 186.3,227.4 187.6,227.4 187.6,227.3 188.9,227.3 188.9,227.8 190.2,227.8 190.2,228.4 191.5,228.4 191.5,226.6 192.8,226.6 192.8,226.1 194.1,226.1 194.1,228.6 195.4,228.6 195.4,228.3 196.7,228.3 196.7,227.8 198.0,227.8 198.0,227.6 199.3,227.6 199.3,227.2 200.6,227.2 200.6,227.3 201.9,227.3 201.9,226.9 203.2,226.9 203.2,228.0 204.5,228.0 204.5,227.6 205.8,227.6 205.8,226.7 207.1,226.7 207.1,227.5 208.4,227.5 208.4,227.5 209.7,227.5 209.7,227.4 211.0,227.4 211.0,228.8 212.3,228.8 212.3,228.4 213.6,228.4 213.6,226.1 214.9,226.1 214.9,228.3 216.2,228.3 216.2,228.8 217.5,228.8 217.5,229.1 218.8,229.1 218.8,229.0 220.1,229.0 220.1,227.6 221.4,227.6 221.4,229.4 222.7,229.4 222.7,229.0 224.0,229.0 224.0,229.9 225.3,229.9 225.3,229.3 226.6,229.3 226.6,228.2 227.9,228.2 227.9,230.1 229.2,230.1 229.2,228.3 230.5,228.3 230.5,229.6 231.8,229.6 231.8,229.1 233.1,229.1 233.1,228.5 234.4,228.5 234.4,227.5 235.7,227.5 235.7,228.2 237.0,228.2 237.0,228.1 238.3,228.1 238.3,228.5 239.6,228.5 239.6,228.5 240.9,228.5 240.9,229.5 242.2,229.5 242.2,228.8 243.5,228.8 243.5,229.2 244.8,229.2 244.8,227.8 246.1,227.8 246.1,228.2 247.4,228.2 247.4,229.0 248.7,229.0 248.7,229.0 250.0,229.0 250.0,228.8 251.3,228.8 251.3,228.1 252.6,228.1 252.6,227.7 253.9,227.7 253.9,229.3 255.2,229.3 255.2,227.8 256.5,227.8 256.5,227.9 257.8,227.9 257.8,229.0 259.1,229.0 259.1,228.0 260.4,228.0 260.4,227.6 261.7,227.6 261.7,228.3 263.0,228.3 263.0,227.6 264.3,227.6 264.3,228.3 265.6,228.3 265.6,227.3 266.9,227.3 266.9,226.8 268.2,226.8 268.2,228.5 269.5,228.5 269.5,227.7 270.8,227.7 270.8,227.0 272.1,227.0 272.1,226.7 273.4,226.7 273.4,226.1 274.7,226.1 274.7,226.5 276.0,226.5 276.0,226.2 277.3,226.2 277.3,227.5 278.6,227.5 278.6,227.6 279.9,227.6 279.9,226.6 281.2,226.6 281.2,226.3 282.5,226.3 282.5,226.6 283.8,226.6 283.8,226.1 285.1,226.1 285.1,226.1 286.4,226.1 286.4,225.8 287.7,225.8 287.7,225.3 289.0,225.3 289.0,225.0 290.3,225.0 290.3,223.6 291.6,223.6 291.6,223.8 292.9,223.8 292.9,221.8 294.2,221.8 294.2,222.1 295.5,222.1 295.5,221.3 296.8,221.3 296.8,220.9 298.1,220.9 298.1,220.1 299.4,220.1 299.4,219.7 300.7,219.7 300.7,218.3 302.0,218.3 302.0,218.3 303.3,218.3 303.3,217.8 304.6,217.8 304.6,218.0 305.9,218.0 305.9,217.8 307.2,217.8 307.2,217.8 308.5,217.8 308.5,218.0 309.8,218.0 309.8,218.3 311.1,218.3 311.1,218.8 312.4,218.8 312.4,219.5 313.7,219.5 313.7,220.0 315.0,220.0 315.0,220.0 316.3,220.0 316.3,219.9 317.6,219.9 317.6,220.1 318.9,220.1 318.9,220.8 320.2,220.8 320.2,220.0 321.5,220.0 321.5,220.3 322.8,220.3 322.8,219.4 324.1,219.4 324.1,220.6 325.4,220.6 325.4,220.1 326.7,220.1 326.7,219.7 328.0,219.7 328.0,219.7 329.3,219.7 329.3,219.9 330.6,219.9 330.6,219.4 331.9,219.4 331.9,219.3 333.2,219.3 333.2,219.0 334.5,219.0 334.5,218.3 335.8,218.3 335.8,217.8 337.1,217.8 337.1,218.6 338.4,218.6 338.4,217.7 339.7,217.7 339.7,217.9 341.0,217.9 341.0,217.3 342.3,217.3 342.3,215.9 343.6,215.9 343.6,214.8 344.9,214.8 344.9,213.7 346.2,213.7 346.2,213.3 347.5,213.3 347.5,211.9 348.8,211.9 348.8,210.9 350.1,210.9 350.1,210.3 351.4,210.3 351.4,209.1 352.7,209.1 352.7,208.6 354.0,208.6 354.0,208.2 355.3,208.2 355.3,208.0 356.6,208.0 356.6,207.5 357.9,207.5 357.9,207.6 359.2,207.6 359.2,207.9 360.5,207.9 360.5,207.7 361.8,207.7 361.8,207.8 363.1,207.8 363.1,208.4 364.4,208.4 364.4,208.2 365.7,208.2 365.7,208.5 367.0,208.5 367.0,208.8 368.3,208.8 368.3,208.7 369.6,208.7 369.6,209.2 370.9,209.2 370.9,208.6 372.2,208.6 372.2,208.2 373.5,208.2 373.5,208.6 374.8,208.6 374.8,208.5 376.1,208.5 376.1,208.6 377.4,208.6 377.4,207.9 378.7,207.9 378.7,208.1 380.0,208.1 380.0,208.2 381.3,208.2 381.3,207.9 382.6,207.9 382.6,207.9 383.9,207.9 383.9,207.2 385.2,207.2 385.2,207.3 386.5,207.3 386.5,207.0 387.8,207.0 387.8,207.1 389.1,207.1 389.1,206.3 390.4,206.3 390.4,206.6 391.7,206.6 391.7,206.2 393.0,206.2 393.0,206.0 394.3,206.0 394.3,205.6 395.6,205.6 395.6,205.4 396.9,205.4 396.9,205.2 398.2,205.2 398.2,205.5 399.5,205.5 399.5,205.0 400.8,205.0 400.8,205.3 402.1,205.3 402.1,204.9 403.4,204.9 403.4,204.6 404.7,204.6 404.7,204.4 406.0,204.4 406.0,203.6 407.3,203.6 407.3,203.2 408.6,203.2 408.6,201.8 409.9,201.8 409.9,201.1 411.2,201.1 411.2,200.2 412.5,200.2 412.5,198.7 413.8,198.7 413.8,197.4 415.1,197.4 415.1,195.5 416.4,195.5 416.4,193.8 417.7,193.8 417.7,192.6 419.0,192.6 419.0,191.1 420.3,191.1 420.3,189.9 421.6,189.9 421.6,188.9 422.9,188.9 422.9,187.9 424.2,187.9 424.2,187.1 425.5,187.1 425.5,186.5 426.8,186.5 426.8,185.9 428.1,185.9 428.1,185.8 429.4,185.8 429.4,186.0 430.7,186.0 430.7,186.5 432.0,186.5 432.0,187.1 433.3,187.1 433.3,187.8 434.6,187.8 434.6,188.6 435.9,188.6 435.9,189.8 437.2,189.8 437.2,191.6 438.5,191.6 438.5,193.6 439.8,193.6 439.8,195.9 441.1,195.9 441.1,198.8 442.4,198.8 442.4,201.2 443.7,201.2 443.7,204.5 445.0,204.5 445.0,208.4 446.3,208.4 446.3,213.0 447.6,213.0 447.6,216.4 448.9,216.4 448.9,220.5 450.2,220.5 450.2,223.7 451.5,223.7 451.5,227.7 452.8,227.7" fill="none" stroke="#6a006a" stroke-width="4.3" stroke-linejoin="round" stroke-linecap="butt"/><polyline points="440.2,195.3 441.2,197.2 442.2,199.2 443.1,201.3 444.0,203.5 444.8,205.8 445.6,208.3 446.3,210.8 447.1,213.3 447.9,215.7 448.7,218.1 449.5,220.6 450.4,223.0 451.2,225.4 452.0,227.8 452.7,230.2 453.4,232.6 454.1,234.9 454.7,237.3 455.4,239.5 456.0,241.7" fill="none" stroke="#6a006a" stroke-width="4.0" stroke-linejoin="round" stroke-linecap="butt"/><polygon points="452.7,234.3 454.0,234.3 454.0,237.8 455.3,237.8 455.3,242.8 456.6,242.8 456.6,246.0 457.9,246.0 457.9,249.1 459.2,249.1 459.2,251.5 460.5,251.5 460.5,253.9 461.8,253.9 461.8,255.4 463.1,255.4 463.1,255.7 464.4,255.7 464.4,256.1 465.7,256.1 465.7,255.6 467.0,255.6 467.0,256.2 468.3,256.2 468.3,255.7 469.6,255.7 469.6,255.3 470.9,255.3 470.9,254.9 472.2,254.9 472.2,254.2 473.5,254.2 473.5,253.6 474.8,253.6 474.8,254.3 476.1,254.3 476.1,254.0 477.4,254.0 477.4,254.0 478.7,254.0 478.7,253.7 480.0,253.7 480.0,252.4 481.3,252.4 481.3,252.4 482.6,252.4 482.6,251.8 483.9,251.8 483.9,253.5 485.2,253.5 485.2,253.7 486.5,253.7 486.5,254.6 487.8,254.6 487.8,254.8 489.1,254.8 489.1,255.5 490.4,255.5 490.4,257.1 491.7,257.1 491.7,258.5 493.0,258.5 493.0,260.0 494.3,260.0 494.3,260.0 495.6,260.0 495.6,262.0 496.9,262.0 496.9,262.3 498.2,262.3 498.2,263.5 499.5,263.5 499.5,264.5 500.8,264.5 500.8,265.4 502.1,265.4 502.1,266.9 503.4,266.9 503.4,268.2 504.7,268.2 504.7,268.8 506.0,268.8 506.0,269.3 507.3,269.3 507.3,271.0 508.6,271.0 508.6,272.2 509.9,272.2 509.9,273.6 511.2,273.6 511.2,274.4 512.5,274.4 512.5,273.6 513.8,273.6 513.8,274.4 515.1,274.4 515.1,275.0 516.4,275.0 516.4,276.1 517.7,276.1 517.7,276.0 519.0,276.0 519.0,277.3 520.3,277.3 520.3,277.6 521.6,277.6 521.6,277.3 522.9,277.3 522.9,278.7 524.2,278.7 524.2,279.6 525.5,279.6 525.5,280.2 526.8,280.2 526.8,279.7 528.1,279.7 528.1,281.5 529.4,281.5 529.4,280.9 530.7,280.9 530.7,280.0 532.0,280.0 532.0,280.9 533.3,280.9 533.0,292.2 531.7,292.2 531.7,291.2 530.4,291.2 530.4,293.5 529.1,293.5 529.1,294.7 527.8,294.7 527.8,292.7 526.5,292.7 526.5,293.3 525.2,293.3 525.2,293.3 523.9,293.3 523.9,292.9 522.6,292.9 522.6,292.4 521.3,292.4 521.3,292.1 520.0,292.1 520.0,290.5 518.7,290.5 518.7,289.0 517.4,289.0 517.4,288.2 516.1,288.2 516.1,289.4 514.8,289.4 514.8,288.6 513.5,288.6 513.5,287.5 512.2,287.5 512.2,284.9 510.9,284.9 510.9,284.9 509.6,284.9 509.6,283.4 508.3,283.4 508.3,281.0 507.0,281.0 507.0,279.6 505.7,279.6 505.7,280.8 504.4,280.8 504.4,279.2 503.1,279.2 503.1,277.8 501.8,277.8 501.8,276.4 500.5,276.4 500.5,274.7 499.2,274.7 499.2,273.5 497.9,273.5 497.9,273.0 496.6,273.0 496.6,270.6 495.3,270.6 495.3,269.7 494.0,269.7 494.0,269.5 492.7,269.5 492.7,265.6 491.4,265.6 491.4,264.3 490.1,264.3 490.1,264.6 488.8,264.6 488.8,262.5 487.5,262.5 487.5,261.4 486.2,261.4 486.2,259.7 484.9,259.7 484.9,258.3 483.6,258.3 483.6,259.7 482.3,259.7 482.3,256.7 481.0,256.7 481.0,258.8 479.7,258.8 479.7,257.9 478.4,257.9 478.4,258.2 477.1,258.2 477.1,257.2 475.8,257.2 475.8,259.9 474.5,259.9 474.5,260.1 473.2,260.1 473.2,260.3 471.9,260.3 471.9,261.2 470.6,261.2 470.6,260.7 469.3,260.7 469.3,262.7 468.0,262.7 468.0,263.8 466.7,263.8 466.7,263.0 465.4,263.0 465.4,260.0 464.1,260.0 464.1,261.7 462.8,261.7 462.8,261.2 461.5,261.2 461.5,257.5 460.2,257.5 460.2,255.0 458.9,255.0 458.9,252.7 457.6,252.7 457.6,248.3 456.3,248.3 456.3,244.6 455.0,244.6 455.0,238.1 453.7,238.1 453.7,232.8 452.4,232.8" fill="#6a006a" stroke="#6a006a" stroke-width="0.8" stroke-linejoin="round"/></g>
<text x="27.5" y="178.7" font-size="8.7" text-anchor="end" textLength="8.9" lengthAdjust="spacingAndGlyphs" font-family="Liberation Sans, sans-serif" stroke="#000" stroke-width="0.22">10</text>
<text x="27.0" y="175.6" font-size="6" font-family="Liberation Sans, sans-serif" stroke="#000" stroke-width="0.22">3</text>
<text x="27.5" y="208.0" font-size="8.7" text-anchor="end" textLength="8.9" lengthAdjust="spacingAndGlyphs" font-family="Liberation Sans, sans-serif" stroke="#000" stroke-width="0.22">10</text>
<text x="27.0" y="204.9" font-size="6" font-family="Liberation Sans, sans-serif" stroke="#000" stroke-width="0.22">2</text>
<text x="30.6" y="237.3" font-size="8.7" text-anchor="end" textLength="8.9" lengthAdjust="spacingAndGlyphs" font-family="Liberation Sans, sans-serif" stroke="#000" stroke-width="0.22">10</text>
<text x="30.6" y="266.6" font-size="8.7" text-anchor="end" font-family="Liberation Sans, sans-serif" stroke="#000" stroke-width="0.22">1</text>
<text transform="translate(9.6 218.3) rotate(-90)" font-size="11.6" textLength="34.2" lengthAdjust="spacingAndGlyphs" text-anchor="middle" font-family="Liberation Sans, sans-serif" fill="#000" stroke="#000" stroke-width="0.12" style="will-change:auto;filter:grayscale(1)">Counts</text>
<rect x="201" y="146.9" width="193" height="54.8" fill="#fff"/>
<path d="M201 146.9V201.7H394V146.9" fill="none" stroke="#222" stroke-width="1.3"/>
<path d="M208 152.1H242" stroke="#0000ff" stroke-width="2.6"/>
<text x="249.2" y="154.9" font-size="9" font-family="Liberation Sans, sans-serif" stroke="#000" stroke-width="0.22">Signal (0.0105 C)</text>
<path d="M208 163.0H242" stroke="#ff0000" stroke-width="2.6"/>
<text x="249.2" y="165.8" font-size="9" font-family="Liberation Sans, sans-serif" stroke="#000" stroke-width="0.22">Simulation</text>
<path d="M208 174.0H242" stroke="#ffc000" stroke-width="2.6"/>
<text x="249.2" y="176.8" font-size="9" font-family="Liberation Sans, sans-serif" stroke="#000" stroke-width="0.22"><tspan font-size="6.3" dy="-3.6">15</tspan><tspan dy="3.6">O simulation</tspan></text>
<path d="M208 184.9H242" stroke="#00ee00" stroke-width="2.6"/>
<text x="249.2" y="187.8" font-size="9" font-family="Liberation Sans, sans-serif" stroke="#000" stroke-width="0.22">Background</text>
<path d="M208 195.9H242" stroke="#6a006a" stroke-width="2.6"/>
<text x="249.2" y="198.7" font-size="9" font-family="Liberation Sans, sans-serif" stroke="#000" stroke-width="0.22"><tspan font-size="6.3" dy="-3.6">14</tspan><tspan dy="3.6">N simulation</tspan></text>
<text x="84.62" y="303.7" font-size="9.5" text-anchor="middle" textLength="19.6" lengthAdjust="spacingAndGlyphs" font-family="Liberation Sans, sans-serif" stroke="#000" stroke-width="0.22">1000</text>
<text x="137.24" y="303.7" font-size="9.5" text-anchor="middle" textLength="19.6" lengthAdjust="spacingAndGlyphs" font-family="Liberation Sans, sans-serif" stroke="#000" stroke-width="0.22">2000</text>
<text x="189.86" y="303.7" font-size="9.5" text-anchor="middle" textLength="19.6" lengthAdjust="spacingAndGlyphs" font-family="Liberation Sans, sans-serif" stroke="#000" stroke-width="0.22">3000</text>
<text x="242.48" y="303.7" font-size="9.5" text-anchor="middle" textLength="19.6" lengthAdjust="spacingAndGlyphs" font-family="Liberation Sans, sans-serif" stroke="#000" stroke-width="0.22">4000</text>
<text x="295.10" y="303.7" font-size="9.5" text-anchor="middle" textLength="19.6" lengthAdjust="spacingAndGlyphs" font-family="Liberation Sans, sans-serif" stroke="#000" stroke-width="0.22">5000</text>
<text x="347.72" y="303.7" font-size="9.5" text-anchor="middle" textLength="19.6" lengthAdjust="spacingAndGlyphs" font-family="Liberation Sans, sans-serif" stroke="#000" stroke-width="0.22">6000</text>
<text x="400.34" y="303.7" font-size="9.5" text-anchor="middle" textLength="19.6" lengthAdjust="spacingAndGlyphs" font-family="Liberation Sans, sans-serif" stroke="#000" stroke-width="0.22">7000</text>
<text x="452.96" y="303.7" font-size="9.5" text-anchor="middle" textLength="19.6" lengthAdjust="spacingAndGlyphs" font-family="Liberation Sans, sans-serif" stroke="#000" stroke-width="0.22">8000</text>
<text x="505.58" y="303.7" font-size="9.5" text-anchor="middle" textLength="19.6" lengthAdjust="spacingAndGlyphs" font-family="Liberation Sans, sans-serif" stroke="#000" stroke-width="0.22">9000</text>
<text x="532.2" y="309.9" font-size="7.4" text-anchor="end" font-family="Liberation Sans, sans-serif" stroke="#000" stroke-width="0.22">Energy [keV]</text>
</svg></body></html>
